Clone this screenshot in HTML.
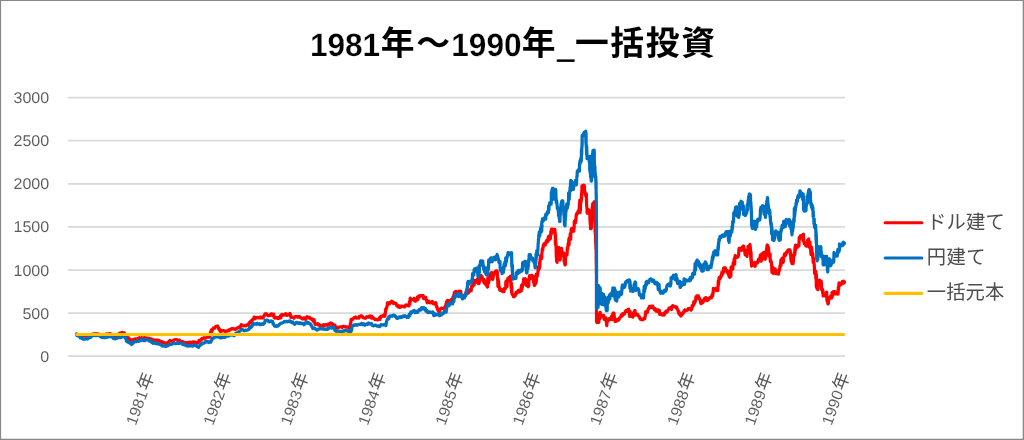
<!DOCTYPE html>
<html lang="ja"><head><meta charset="utf-8"><title>1981年～1990年_一括投資</title>
<style>
html,body{margin:0;padding:0;background:#fff;}
#chart{position:relative;width:1024px;height:440px;overflow:hidden;}
svg{position:absolute;left:0;top:0;display:block;will-change:transform;}
text{font-family:"Liberation Sans","Noto Sans CJK JP",sans-serif;}
.ax{text-rendering:geometricPrecision;font-size:15.5px;fill:#595959;stroke:#fff;stroke-width:0.05px;}
.ttl{font-size:32.3px;font-weight:bold;fill:#000;stroke:#fff;stroke-width:0.25px;text-rendering:geometricPrecision;}
</style></head><body>
<div id="chart">
<svg width="1024" height="440" viewBox="0 0 1024 440" role="img" aria-label="1981年～1990年_一括投資">
<g stroke="#888888" stroke-width="1.3" fill="none"><line x1="0" y1="0.45" x2="1024" y2="0.45"/><line x1="0.45" y1="0" x2="0.45" y2="440"/><line x1="1023.35" y1="0" x2="1023.35" y2="440"/><line x1="0" y1="439.3" x2="1024" y2="439.3"/></g>
<g stroke="#d9d9d9" stroke-width="1.75">
<line x1="68" y1="356.2" x2="845" y2="356.2"/>
<line x1="68" y1="313.1" x2="845" y2="313.1"/>
<line x1="68" y1="270" x2="845" y2="270"/>
<line x1="68" y1="226.9" x2="845" y2="226.9"/>
<line x1="68" y1="183.8" x2="845" y2="183.8"/>
<line x1="68" y1="140.7" x2="845" y2="140.7"/>
<line x1="68" y1="97.6" x2="845" y2="97.6"/>
</g>
<g class="ax" text-anchor="end">
<text x="49.2" y="361.75" textLength="8.93" lengthAdjust="spacingAndGlyphs">0</text>
<text x="49.2" y="318.65" textLength="26.79" lengthAdjust="spacingAndGlyphs">500</text>
<text x="49.2" y="275.55" textLength="35.72" lengthAdjust="spacingAndGlyphs">1000</text>
<text x="49.2" y="232.45" textLength="35.72" lengthAdjust="spacingAndGlyphs">1500</text>
<text x="49.2" y="189.35" textLength="35.72" lengthAdjust="spacingAndGlyphs">2000</text>
<text x="49.2" y="146.25" textLength="35.72" lengthAdjust="spacingAndGlyphs">2500</text>
<text x="49.2" y="103.15" textLength="35.72" lengthAdjust="spacingAndGlyphs">3000</text>
</g>
<g fill="none" stroke-width="3.2" stroke-linejoin="round" stroke-linecap="round">
<polyline stroke="#ff0000" points="76.5,334.62 76.97,334.79 77.44,334.63 77.91,335.44 78.38,334.68 78.84,335.42 79.31,336.06 79.78,335.74 80.25,335.75 80.76,335.56 81.27,335.59 81.79,335.52 82.3,335.9 82.81,336.15 83.32,335.84 83.83,335.61 84.34,335.56 84.86,335.71 85.37,336.05 85.88,335.75 86.39,335.64 86.91,335.63 87.42,335.18 87.93,334.93 88.45,335.08 88.96,335 89.47,334.85 89.99,334.89 90.5,334.88 90.96,334.57 91.43,334.65 91.89,334.58 92.36,334.51 92.82,334.28 93.29,333.86 93.75,333.75 94.28,334.08 94.81,334.23 95.35,334.23 95.88,333.57 96.38,334.25 96.88,334.36 97.38,334.36 97.88,334.24 98.38,333.88 98.8,335.03 99.23,334.82 99.65,335.01 100.08,335.41 100.5,335 101,335.48 101.5,335.48 102,334.77 102.5,335.23 103,335.08 103.5,335.1 104,335 104.5,335.12 105,334.65 105.5,334.28 106,334.66 106.5,333.88 107,334.36 107.5,334.36 108,334.36 108.5,334.36 109,333.7 109.45,333.66 109.9,333.8 110.35,334.02 110.8,333.94 111.25,334 111.68,334.31 112.1,334.99 112.53,335.5 112.95,334.82 113.38,335.21 113.87,335.45 114.35,334.64 114.84,334.9 115.32,334.64 115.81,335.69 116.29,335.69 116.78,335.07 117.26,334.79 117.75,335.12 118.12,334.37 118.5,334 118.88,333.72 119.25,333.54 119.62,333.17 120,333.5 120.44,333.28 120.88,333.45 121.31,332.66 121.75,332.9 122.29,332.42 122.84,333.37 123.38,333.25 123.75,333.66 124.13,333.34 124.5,333 124.88,334.62 125.15,335.06 125.42,335.94 125.69,336.06 125.96,335.99 126.23,337 126.5,336.88 126.86,337.22 127.21,337.35 127.57,337.17 127.93,338.52 128.29,338.19 128.64,337.87 129,339.38 129.45,339.17 129.89,339.77 130.34,339.4 130.78,340.34 131.23,340.62 131.67,340.56 132.12,340.51 132.5,339.86 132.87,340.24 133.25,340.15 133.62,339.65 134,339.23 134.5,339.34 135,338.93 135.5,338.75 136,338.75 136.5,339.52 136.97,338.81 137.44,338.85 137.91,338.35 138.38,338.68 138.84,338.02 139.31,337.64 139.78,338.02 140.25,338.12 140.75,338.14 141.25,338.57 141.75,337.64 142.25,338.3 142.75,338.62 143.22,338.41 143.69,337.99 144.16,337.57 144.62,337.57 145.09,338.19 145.56,338.47 146.03,337.85 146.5,338.05 146.97,338.22 147.44,338.62 147.91,338.04 148.38,338.29 148.84,338.36 149.31,338.35 149.78,338.76 150.25,338.75 150.72,338.91 151.19,338.94 151.66,339.2 152.12,339.35 152.59,340.08 153.06,340.58 153.53,340.17 154,340.36 154.52,340.37 155.04,339.92 155.56,340.67 156.08,340.51 156.6,340.03 157.12,340.01 157.57,340.04 158.01,340.38 158.46,340.58 158.91,340.45 159.36,340.7 159.8,340.83 160.25,341.25 160.72,341.57 161.19,342.13 161.66,341.56 162.12,341.56 162.59,342.57 163.06,342.58 163.53,342.59 164,342.75 164.5,342.68 165,343 165.5,343.49 166,343.49 166.5,343.01 166.92,342.92 167.33,342.88 167.75,342.5 168.17,342.99 168.58,341.78 169,341.27 169.42,340.9 169.83,340.32 170.25,340.62 170.72,340.54 171.19,341.1 171.66,341.1 172.12,341.1 172.59,341.1 173.06,340.6 173.53,340.17 174,340 174.47,340.21 174.94,339.52 175.41,339.65 175.88,339.52 176.34,339.52 176.81,339.91 177.28,340.03 177.75,340 178.22,340.04 178.69,340.58 179.16,340.07 179.62,340.28 180.09,341.53 180.56,341.26 181.03,341.79 181.5,341.88 181.97,342.07 182.44,341.56 182.91,342.35 183.38,342.04 183.84,342.6 184.31,342.73 184.78,342.85 185.25,343.12 185.72,342.64 186.19,342.64 186.66,342.64 187.12,343.44 187.59,342.65 188.06,342.64 188.53,342.78 189,343.12 189.5,342.02 190,342.02 190.5,342.17 191,342.52 191.5,342.5 191.97,342.74 192.44,342.42 192.91,341.9 193.38,341.84 193.84,342.36 194.31,341.84 194.78,342.05 195.25,342.32 195.75,342.22 196.25,342.57 196.75,342.68 197.25,343.34 197.75,342.86 198.06,342.86 198.38,342.75 198.69,341.92 199,340.44 199.31,341.58 199.62,341.4 199.94,341 200.25,340 200.67,339.93 201.08,339.32 201.5,339.34 201.92,338.51 202.33,339.13 202.75,338.86 203.17,338.58 203.58,338.56 204,337.75 204.52,338.02 205.04,338.23 205.56,338.23 206.08,337.81 206.6,337.48 207.12,336.99 207.62,336.71 208.12,337.07 208.62,336.75 209.12,336.62 209.62,337.14 209.73,336.29 209.85,335.72 209.96,335.45 210.08,334.34 210.19,333.24 210.31,334.46 210.42,332.61 210.54,334.32 210.65,332.32 210.77,332.2 210.88,331.88 211.16,330.65 211.44,329.96 211.71,331.53 211.99,330.84 212.27,330.13 212.55,330.1 212.82,329.11 213.1,328.54 213.38,328.12 213.83,327.79 214.27,327.79 214.72,328.07 215.16,326.77 215.61,326.83 216.05,326.31 216.5,326.37 216.88,326.25 217.25,326.31 217.63,325.89 218,327.03 218.38,328.12 218.65,327.64 218.91,329.36 219.18,329.79 219.45,329.26 219.72,329.5 219.98,330.33 220.25,331.32 220.75,331.53 221.25,330.64 221.75,330.79 222.25,330.9 222.75,330.56 223.25,330.57 223.75,330.76 224.25,330.77 224.75,330.84 225.25,331.5 225.75,331.26 226.25,331.28 226.75,331.18 227.25,331 227.75,330.62 228.22,330.52 228.69,330.03 229.16,330.54 229.62,329.99 230.09,329.95 230.56,329.14 231.03,329.19 231.5,328.94 232,328.5 232.5,328.84 233,328.46 233.5,329.01 234,329.19 234.47,329 234.94,329.46 235.41,328.8 235.88,328.9 236.34,328.97 236.81,328.38 237.28,327.94 237.75,328.12 238.25,327.47 238.75,327.02 239.25,327.02 239.75,327.02 240.25,327.5 240.56,326.01 240.87,325.57 241.19,324.71 241.5,324.7 241.81,325.23 242.12,325.19 242.62,325.8 243.12,325.93 243.62,325.79 244.12,325.86 244.62,325.43 245.07,325.26 245.51,325.39 245.96,325.88 246.41,325.16 246.86,325.27 247.3,325.27 247.75,324.38 248.11,324.47 248.46,324.9 248.82,324.52 249.18,322.52 249.54,322.46 249.89,322.96 250.25,321.88 250.61,321.21 250.96,322.44 251.32,321.5 251.68,321.48 252.04,320.97 252.39,319.68 252.75,319.38 253.2,319.44 253.64,319.04 254.09,317.08 254.54,317.95 254.99,318.87 255.43,318.51 255.88,317.69 256.4,317.8 256.92,317.5 257.44,317.35 257.96,317.81 258.48,317.67 259,317.93 259.52,317.46 260.04,317.11 260.56,316.88 261.08,318.04 261.6,317.91 262.12,317.5 262.47,317.3 262.82,317.52 263.16,318 263.51,316.68 263.86,315.86 264.21,315.8 264.55,314.58 264.9,313.99 265.25,314.12 265.75,314.12 266.25,313.68 266.75,314.37 267.25,315.06 267.75,315 268.25,315.7 268.75,315.33 269.25,315.5 269.75,315 270.25,315.43 270.75,315.1 271.25,313.81 271.75,314.65 272.25,314.12 272.75,314.31 272.93,314.95 273.11,315.34 273.29,315.81 273.46,314.8 273.64,314.12 273.82,316.08 274,317.5 274.5,317.52 275,318.11 275.5,317.14 276,317.76 276.5,317.93 277.02,318.32 277.54,317.74 278.06,317.41 278.58,318.31 279.1,317.76 279.62,317.5 279.93,318.1 280.25,318.02 280.56,315.55 280.87,317.63 281.18,315.98 281.5,315.94 281.81,314.44 282.12,314.38 282.64,314.89 283.16,315.05 283.69,315.05 284.21,315.05 284.73,314.41 285.25,313.94 285.75,313.67 286.25,314.76 286.75,315.3 287.25,315.29 287.75,314.62 288.22,314.86 288.69,315 289.15,315.01 289.62,314.12 289.89,313.46 290.16,314.13 290.43,314.79 290.69,316.55 290.96,317.42 291.23,316.74 291.5,316.88 291.92,316.88 292.33,317.05 292.75,317.03 293.17,317.64 293.58,317.7 294,318.19 294.47,317.34 294.94,316.64 295.41,316.64 295.88,316.73 296.34,316.63 296.81,316.63 297.28,316.97 297.75,317.25 298.22,316.74 298.69,316.63 299.16,316.63 299.62,316.63 300.09,317.54 300.56,317.47 301.03,318.19 301.5,318.12 302,318.53 302.5,318.96 303,318.89 303.5,317.94 304,319 304.39,319.03 304.78,317.86 305.17,318.98 305.56,319.18 305.95,318.29 306.34,318.08 306.73,317.4 307.12,316.62 307.62,316.93 308.12,317 308.62,318 309.12,317.91 309.62,317.5 309.94,317.87 310.25,318.12 310.67,318.97 311.08,318.96 311.5,319.02 311.92,318.84 312.33,319.81 312.75,320 313,321.2 313.25,321.02 313.5,321.16 313.75,320.76 314,319.46 314.25,320.56 314.5,322.58 314.75,322.81 315,323.99 315.25,324.44 315.75,324.06 316.25,323.87 316.75,324.11 317.25,323.88 317.75,323.68 318.17,325.03 318.58,325.02 319,325.06 319.42,324.8 319.83,325.61 320.25,325.25 320.77,325.37 321.29,325.7 321.81,325.75 322.34,325.75 322.86,325.16 323.38,324.75 323.85,325.15 324.31,324.95 324.78,325.41 325.25,325.06 325.72,324.69 326.19,324.62 326.65,325.02 327.12,325.25 327.56,324.72 328,324.46 328.43,323.86 328.87,324.35 329.31,324.82 329.75,324.36 330.19,323.43 330.62,322.92 331.06,323.36 331.5,323.25 331.95,323.5 332.39,324.53 332.84,325.52 333.28,324.67 333.73,324.57 334.17,325.04 334.62,325 334.98,325.17 335.33,326.19 335.69,327.49 336.05,327.71 336.41,327.97 336.76,327.44 337.12,327.49 337.64,327.62 338.16,327.58 338.69,327.09 339.21,327.25 339.73,326.97 340.25,326.88 340.72,326.91 341.19,326.88 341.66,326.86 342.12,327.36 342.59,326.49 343.06,326.66 343.53,326.41 344,326.44 344.52,326.62 345.04,326.99 345.56,327.18 346.08,326.83 346.6,327.05 347.12,326.88 347.62,327 348.12,327.24 348.62,327.75 349.12,328.15 349.62,327.75 349.72,328.12 349.81,328.23 349.91,328.21 350,328.08 350.1,326.61 350.2,325.76 350.29,323.94 350.39,323.83 350.48,324.35 350.58,324.04 350.67,322.7 350.77,322.48 350.87,321.95 350.96,319.92 351.06,319.77 351.15,319.83 351.25,319.38 351.71,319.85 352.17,319.55 352.62,319.28 353.08,319.06 353.54,318.24 354,317.69 354.52,317.93 355.04,317.66 355.56,317.07 356.08,317.68 356.6,318.22 357.12,317.93 357.57,317.9 358.01,318.03 358.46,317.93 358.91,318.05 359.36,316.5 359.8,316.64 360.25,316.37 360.7,316.59 361.14,315.74 361.59,315.86 362.04,316.08 362.49,316.71 362.93,317.58 363.38,317.75 363.9,317.95 364.42,317.94 364.94,318.37 365.46,318.24 365.98,317.73 366.5,316.88 366.97,316.96 367.44,316.79 367.91,316.79 368.38,317.2 368.84,317.25 369.31,316.18 369.78,316.27 370.25,316 370.64,316.37 371.03,317.21 371.42,318.11 371.81,316.35 372.21,317.42 372.6,317.9 372.99,317.44 373.38,318.12 373.83,318.73 374.27,318.87 374.72,318.9 375.16,319.64 375.61,319.73 376.05,319.61 376.5,319.38 377,319.48 377.5,319.81 378,319.63 378.5,319.3 379,319.38 379.27,317.95 379.54,318.06 379.81,318.66 380.07,319.42 380.34,317.03 380.61,317.03 380.88,316.25 381.4,316.24 381.92,316.41 382.44,315.66 382.96,316.06 383.48,315.98 384,315.62 384.17,315.48 384.33,316.24 384.5,316.29 384.67,314.16 384.83,316.31 385,314.73 385.17,315.38 385.33,312.86 385.5,310.8 385.67,309.24 385.83,310.77 386,309.35 386.17,308.28 386.33,308 386.5,308.75 386.73,307.62 386.95,306.12 387.18,306.06 387.41,302.96 387.64,304.21 387.86,302.95 388.09,302.94 388.32,303.22 388.55,304.2 388.77,303.86 389,303.75 389.38,303.97 389.75,303.66 390.13,302.33 390.5,302.54 390.88,302 391.3,302.26 391.71,301.18 392.13,302.3 392.55,301.56 392.96,302.39 393.38,303.56 393.88,303.23 394.38,302.9 394.88,303.15 395.38,303.01 395.88,303.31 396.15,304.08 396.41,304.87 396.68,305.7 396.95,305.49 397.22,306.15 397.48,305.09 397.75,306.25 398.27,306.83 398.79,306.63 399.31,307.34 399.84,306 400.36,307.26 400.88,306.69 401.4,306.3 401.92,306 402.44,306.37 402.96,306.51 403.48,306.65 404,306.25 404.52,306.86 405.04,306.7 405.56,305.51 406.08,304.88 406.6,305.27 407.12,305.38 407.59,305.09 408.06,305.29 408.53,304.96 409,305.88 409.13,304.53 409.25,304.28 409.38,301.6 409.5,302.83 409.63,303.7 409.75,303.31 409.88,304.16 410,301.54 410.13,298.82 410.25,298.04 410.38,299.62 410.5,300.13 410.63,300.51 410.75,299.51 410.88,298.75 411.4,299.57 411.92,299.67 412.44,299.67 412.96,299.67 413.48,299.68 414,298.31 414.42,300.38 414.83,300.99 415.25,301.22 415.67,301.22 416.08,300.07 416.5,300.31 416.85,298.65 417.19,297.91 417.54,296.88 417.89,299.51 418.23,297.24 418.58,296.07 418.93,296.78 419.27,296.23 419.62,296.88 420.14,295.88 420.66,295.49 421.19,295.52 421.71,295.48 422.23,295.71 422.75,296.44 423.17,295.49 423.58,298.58 424,297.84 424.42,297.29 424.83,297.71 425.25,298.12 425.53,297.78 425.81,297.38 426.08,299.84 426.36,299.72 426.64,300.16 426.92,302.07 427.19,302.76 427.47,301.61 427.75,301.88 428.25,302.31 428.75,301.03 429.25,301.52 429.75,302.25 430.25,302.75 430.75,302.28 431.25,302.4 431.75,302.54 432.25,301.42 432.75,302.25 433.25,303.62 433.75,303.25 434.25,303.98 434.75,303.57 435.25,303.12 435.44,303.72 435.62,302.49 435.81,304.48 436,302.87 436.19,304.92 436.37,305.65 436.56,306.09 436.75,307.44 436.93,306.45 437.12,307.5 437.36,309.01 437.59,309.33 437.82,310.16 438.06,308.96 438.3,311.14 438.53,311.49 438.76,311.49 439,310.75 439.36,311.44 439.71,311.33 440.07,309.37 440.43,308.99 440.79,308.79 441.14,308.41 441.5,308.12 442.02,308.38 442.54,308.51 443.06,308.42 443.58,308.27 444.1,307.74 444.62,308.12 444.83,308.17 445.04,308.32 445.25,308.11 445.45,306.2 445.66,305.26 445.87,305.74 446.08,303.94 446.29,303.56 446.5,301.66 446.7,303.31 446.91,302.82 447.12,302.5 447.57,300.39 448.01,300.49 448.46,300.6 448.91,303.37 449.36,303.28 449.8,302.67 450.25,301.25 450.56,302.14 450.88,300.43 451.19,302.15 451.5,299.32 451.81,300.48 452.12,300.59 452.44,299.17 452.75,298.12 452.89,297.12 453.04,298.97 453.18,299.07 453.33,299.08 453.47,299.09 453.61,297.28 453.76,295.22 453.9,294.72 454.04,296.49 454.19,293.5 454.33,293.03 454.48,292.3 454.62,292.07 455.12,292.08 455.62,291.41 456.12,291.39 456.62,293.01 457.12,292.31 457.62,292.49 458.12,292.41 458.62,293.35 459.12,291.21 459.62,291.18 459.81,292.8 460,296.56 460.18,296.64 460.37,291.81 460.56,293.59 460.75,291.23 460.94,293.78 461.12,293.7 461.31,295.16 461.5,295.62 462,295.86 462.5,297.47 463,297.46 463.5,296.51 464,296.5 464.35,296.65 464.69,296.22 465.04,294.78 465.39,295.27 465.73,294.59 466.08,292.13 466.43,293.13 466.77,293.53 467.12,293.12 467.43,292.97 467.75,291.72 468.06,292.44 468.37,293.03 468.68,291.07 469,290.16 469.31,290.89 469.62,290 469.93,290.37 470.25,291.07 470.56,289.22 470.87,290.61 471.19,290.7 471.5,286.45 471.81,286.76 472.12,286.9 472.44,286.3 472.75,286.25 472.92,281.54 473.09,280.93 473.26,280.13 473.43,280.13 473.6,280.13 473.77,282.05 473.94,280.95 474.11,285.17 474.28,280.87 474.45,281.7 474.62,281.25 475.09,280.67 475.56,282.21 476.03,280.33 476.5,280.38 476.81,282 477.13,282.39 477.44,279.25 477.75,279.77 478.07,282.01 478.38,282.62 478.56,283.75 478.74,283.75 478.92,283.75 479.09,282.28 479.27,282.71 479.45,281.13 479.63,277.6 479.81,279 479.99,276.35 480.17,279.79 480.34,277.47 480.52,279.42 480.7,277.78 480.88,276.12 481.19,275.45 481.5,276.66 481.81,276.59 482.13,276.9 482.44,279.31 482.75,278.75 482.98,279.22 483.2,280.41 483.43,281.53 483.66,280.37 483.89,279.36 484.11,282.95 484.34,281.71 484.57,280.23 484.8,281.06 485.02,281.2 485.25,283.75 485.56,284.29 485.87,283.63 486.19,284.5 486.5,284.28 486.81,285.83 487.12,285.94 487.25,286.82 487.37,287.06 487.5,286.96 487.62,284.23 487.75,280.2 487.87,277.85 488,277.63 488.12,277.63 488.25,280.65 488.37,280.98 488.5,283.09 488.62,282.68 488.75,281.65 488.87,279.29 489,278.75 489.17,279.87 489.34,279.87 489.51,279.87 489.68,278.2 489.85,278.56 490.03,276.78 490.2,274.91 490.37,276.53 490.54,275.97 490.71,273.57 490.88,273.8 491.07,272.99 491.25,272.68 491.44,273.08 491.63,272.68 491.81,273.23 492,273.67 492.19,276.85 492.38,278.66 492.56,279.42 492.75,278.7 492.98,278.87 493.2,276.21 493.43,276.26 493.66,272.63 493.89,272.63 494.11,272.63 494.34,272.63 494.57,273.19 494.8,272.63 495.02,272.94 495.25,273.75 495.62,271.1 496,270.88 496.37,270.88 496.75,270.88 497.12,272 497.18,271.36 497.25,272.57 497.31,274.03 497.38,273.56 497.44,272.55 497.51,277.35 497.57,278.5 497.64,280.41 497.7,278.17 497.77,281.45 497.83,283.38 497.9,285.9 497.96,286.4 498.03,286.7 498.09,281.3 498.16,278.91 498.22,283.22 498.29,283.63 498.35,283.52 498.42,285.34 498.48,284.74 498.55,283.68 498.61,281.33 498.68,283.9 498.74,284.94 498.81,283.63 498.87,284.42 498.94,286.01 499,286.25 499.31,286.8 499.62,289.68 499.94,290.29 500.25,290.47 500.56,290.47 500.88,290.46 501.19,290.46 501.5,289.38 501.88,290.33 502.25,290.43 502.63,291.75 503,291.74 503.38,290.69 503.65,291.75 503.91,291.75 504.18,290.62 504.45,288.22 504.72,288.17 504.98,288.18 505.25,287.5 505.39,287.8 505.53,288.33 505.67,286.4 505.81,282.2 505.94,281.4 506.08,281.03 506.22,287.37 506.36,285.69 506.5,282.05 506.64,282.9 506.78,286.22 506.92,284.42 507.06,286.72 507.19,282.74 507.33,281.66 507.47,281.37 507.61,280.29 507.75,278.75 508.11,278.11 508.46,278.83 508.82,278.17 509.18,277.61 509.54,277.24 509.89,277.04 510.25,276.56 510.3,276.86 510.35,276.01 510.41,277.66 510.46,277.53 510.51,277.57 510.56,278.75 510.61,281.62 510.67,282.35 510.72,280.48 510.77,281.07 510.82,283.74 510.87,286.03 510.93,282.89 510.98,286.44 511.03,284.37 511.08,286.07 511.13,285.72 511.19,284.77 511.24,282.66 511.29,288.63 511.34,287.08 511.39,283.6 511.44,285.47 511.5,291 511.55,290.17 511.6,292.27 511.65,289.93 511.7,291.45 511.76,287.66 511.81,286.6 511.86,288.4 511.91,289.59 511.96,293.1 512.02,293.97 512.07,294.4 512.12,294.38 512.57,294.42 513.01,295.39 513.46,296.67 513.91,296.28 514.36,296.66 514.8,294.86 515.25,295.69 515.56,294.04 515.87,292.74 516.18,292.13 516.5,292.12 516.81,292.12 517.12,293.12 517.57,292.25 518.01,291.38 518.46,290.23 518.91,290.22 519.36,290.39 519.8,291.81 520.25,291.25 520.41,290.71 520.56,290.51 520.72,290.3 520.88,289.98 521.03,289.4 521.19,287.11 521.34,290.91 521.5,286.79 521.66,285.11 521.81,288.64 521.97,289.24 522.12,288.13 522.28,287.47 522.44,286.47 522.59,284.86 522.75,283.75 522.98,284.87 523.22,284.25 523.45,281.83 523.68,278.93 523.92,278.93 524.15,278.93 524.39,278.93 524.62,280.05 524.78,280.73 524.93,283.15 525.09,281.7 525.25,279.25 525.4,278.93 525.56,279.24 525.72,279 525.87,282.06 526.03,284.66 526.19,282.93 526.34,285.44 526.5,285.58 526.65,284.8 526.8,283.06 526.95,284.62 527.09,284.16 527.24,283.23 527.39,284.58 527.54,282.9 527.69,283.3 527.84,280.05 527.99,285.28 528.13,286.49 528.28,286.7 528.43,284.26 528.58,283.53 528.73,285.93 528.88,280.88 529.03,280.16 529.17,278.62 529.32,276.52 529.47,277 529.62,275.5 530.01,276.3 530.4,277.25 530.79,278.54 531.18,278.26 531.58,277.38 531.97,275.2 532.36,275.78 532.75,278.12 532.94,279.12 533.13,277 533.33,280.24 533.52,282.73 533.71,280.6 533.9,279.15 534.1,281.81 534.29,285.44 534.48,285.44 534.67,284.45 534.87,284.29 535.06,282.79 535.25,284.32 535.35,283.91 535.45,282.28 535.55,282.6 535.64,280.7 535.74,275.36 535.84,278.89 535.94,277.33 536.04,282.12 536.14,280.18 536.23,282.55 536.33,281.25 536.43,277.77 536.53,273.88 536.63,273.88 536.73,276.05 536.82,277.64 536.92,274.67 537.02,274.56 537.12,275 537.25,274.26 537.37,274.44 537.5,275.93 537.62,273.32 537.75,273.23 537.87,273.36 538,269.05 538.12,271.55 538.25,270.25 538.37,266.89 538.5,270.43 538.62,267.67 538.75,267.52 538.87,267.23 539,267.5 539.06,266.15 539.12,266.27 539.19,267.75 539.25,268.62 539.31,268.62 539.38,268.62 539.44,267.97 539.5,268.45 539.56,264.45 539.62,262.15 539.69,263.3 539.75,266.03 539.81,266.61 539.88,266.9 539.94,261.31 540,261.11 540.06,261.89 540.12,258.42 540.19,258.55 540.25,257.5 540.41,258.33 540.56,255.72 540.72,256.73 540.88,258.5 541.03,258.62 541.19,258.62 541.34,258.47 541.5,258.62 541.66,258.57 541.81,255.21 541.97,252.57 542.12,251.52 542.28,248.88 542.44,248.88 542.59,249.24 542.75,250 542.98,248.18 543.2,245.64 543.43,245.83 543.66,246.24 543.89,243.97 544.11,245.52 544.34,244.24 544.57,243.88 544.8,243.88 545.02,243.88 545.25,245 545.53,242.91 545.81,242.49 546.08,242.44 546.36,240.83 546.64,240.45 546.92,240.91 547.19,241.08 547.47,242.01 547.75,241.25 547.98,238.39 548.22,238.32 548.45,236.59 548.68,240.31 548.92,239 549.15,239.92 549.39,237.79 549.62,237.5 549.79,236.92 549.96,235.28 550.13,237.65 550.3,238.62 550.47,237.67 550.64,234.93 550.81,231.99 550.98,231.09 551.15,234.2 551.32,233.98 551.49,233.34 551.66,230.94 551.83,231.79 552,230.75 551.62,229.63 551.25,231.75 551.5,229.12 551.75,229.12 552,230.24 552.33,229.12 552.67,230.71 553,231.5 553.33,231.4 553.67,231.76 554,230.5 554.25,231.16 554.5,229.38 554.75,229.38 555,232.5 555.04,232.84 555.08,233.63 555.12,234.57 555.16,235.17 555.2,231.97 555.24,236.34 555.28,234.9 555.32,235.16 555.36,240.6 555.4,244.29 555.44,243.04 555.48,240.14 555.52,236.92 555.56,235.29 555.6,240.69 555.64,241.54 555.68,241.68 555.72,241.11 555.76,241.93 555.8,241.08 555.84,241.78 555.88,243.66 555.92,244.42 555.96,245.53 556,245 556.02,245.76 556.04,247.57 556.06,247.3 556.08,247.84 556.1,247.4 556.12,248.3 556.14,248.25 556.15,248.92 556.17,249.93 556.19,251.13 556.21,253.2 556.23,253.7 556.25,255.25 556.27,250.75 556.29,245.61 556.31,251.16 556.33,250.1 556.35,257.88 556.37,251.14 556.39,253.75 556.41,256.21 556.43,251.5 556.45,256.09 556.47,250.72 556.48,255.76 556.5,256.04 556.52,257 556.54,257.07 556.56,259.5 556.58,261.16 556.6,260.46 556.62,261.2 556.7,260.28 556.77,259.44 556.85,257.98 556.92,258.01 557,258.56 557.07,262.32 557.15,260.68 557.22,257.97 557.3,256 557.37,254.1 557.45,253.62 557.52,254.39 557.6,251.87 557.67,250.83 557.75,247.68 557.82,251.21 557.9,251.73 557.97,251.53 558.05,248.97 558.12,247.68 558.2,247.68 558.27,249.34 558.35,248.12 558.42,247.68 558.5,248.8 558.56,248.53 558.61,249.25 558.67,250.33 558.73,250.2 558.78,247.68 558.84,250.21 558.9,247.68 558.95,248.92 559.01,247.68 559.07,247.68 559.12,250.1 559.18,249.37 559.24,253.58 559.3,257.06 559.35,255.69 559.41,257.87 559.47,255.18 559.52,258.2 559.58,259.33 559.64,258.43 559.69,259.77 559.75,259.95 559.83,259.69 559.91,259.7 559.99,259.27 560.08,257.83 560.16,259.54 560.24,255.1 560.32,255.41 560.4,257.59 560.48,258.04 560.56,256.41 560.64,256.53 560.73,254.24 560.81,255.98 560.89,256.56 560.97,253.94 561.05,253.24 561.13,255.73 561.21,253.79 561.29,250.25 561.38,249.75 561.46,249.51 561.54,248.43 561.62,248.8 561.79,251.67 561.96,254.87 562.13,254.87 562.3,254.87 562.47,254.72 562.65,254.87 562.82,254.87 562.99,254.87 563.16,254.87 563.33,254.87 563.5,253.75 563.56,254.44 563.62,253.22 563.69,253.84 563.75,255.79 563.81,254.69 563.88,253.02 563.94,255.13 564,257.55 564.06,261.39 564.12,256.92 564.19,255.36 564.25,254.98 564.31,256.35 564.38,259.22 564.44,261.74 564.5,263.28 564.56,262.13 564.62,260.17 564.69,262.43 564.75,263.7 564.81,264.58 564.88,263.94 564.94,263.23 565,264.82 565.06,263.51 565.12,264.82 565.19,264.82 565.25,264.82 565.31,264.82 565.38,264.59 565.44,262.19 565.5,256.05 565.56,257.66 565.62,258.2 565.69,255.01 565.75,255.91 565.81,253.74 565.88,254.82 565.94,254.98 566,253.75 566.17,254.75 566.34,254.87 566.51,254.87 566.68,254.87 566.85,254.87 567.03,254.87 567.2,251.68 567.37,247.63 567.54,247.63 567.71,247.63 567.88,248.75 567.97,246.99 568.07,245.23 568.16,243.01 568.25,243.91 568.35,244.56 568.44,244.5 568.53,243.49 568.63,242.24 568.72,241.03 568.82,239.14 568.91,240.95 569,245.01 569.1,244.22 569.19,239.88 569.28,237.63 569.38,237.91 569.47,238.51 569.56,238.47 569.66,239.23 569.75,238.75 569.84,238.97 569.93,237.36 570.02,239.32 570.11,238.43 570.2,233.93 570.28,233.92 570.37,234.88 570.46,239.34 570.55,237.22 570.64,237.77 570.73,239.24 570.82,232.5 570.91,232.07 571,231.65 571.09,231.21 571.17,229.84 571.26,229.26 571.35,230.54 571.44,229.77 571.53,229.8 571.62,228.62 572,229.49 572.37,229.8 572.75,231.25 573.12,230.31 573.5,230.12 573.58,230.82 573.67,231.25 573.75,230.56 573.83,231.25 573.92,226.83 574,228.31 574.08,228.93 574.17,226.66 574.25,222.12 574.33,221.38 574.42,221.38 574.5,221.81 574.58,221.57 574.67,222.74 574.75,222.5 574.85,223.02 574.96,221.92 575.06,222.03 575.17,222.49 575.27,222 575.37,219.86 575.48,222.82 575.58,222.25 575.68,221.64 575.79,220.28 575.89,220.07 576,219.66 576.1,216.31 576.2,215.21 576.31,215.75 576.41,215.88 576.52,214.99 576.62,213.75 576.98,213.56 577.33,212.86 577.69,213.23 578.05,211.24 578.41,210.73 578.76,210.31 579.12,211.25 579.21,209.13 579.31,206.7 579.4,205.17 579.5,203.79 579.59,204.98 579.68,202.59 579.78,200.13 579.87,203.45 579.97,205.55 580.06,209.76 580.15,212.37 580.25,207.69 580.34,210.62 580.44,209.56 580.53,202.97 580.62,201.61 580.72,203.76 580.81,202.05 580.91,201.67 581,201.25 581.04,200.88 581.09,199.86 581.13,200.17 581.17,201.02 581.22,201.61 581.26,200.46 581.3,199.66 581.34,199.93 581.39,197.42 581.43,197.45 581.47,195.51 581.52,193.57 581.56,195.09 581.6,194.83 581.65,198.11 581.69,195.68 581.73,196.14 581.78,190.41 581.82,191.2 581.86,192.52 581.91,187.95 581.95,185.76 581.99,185.76 582.03,185.76 582.08,188.15 582.12,191.39 582.16,189.9 582.21,188.53 582.25,186.88 582.67,186.05 583.08,185.44 583.5,186.44 583.6,185.32 583.71,187.06 583.81,185.32 583.92,188.12 584.02,185.32 584.12,185.32 584.23,185.33 584.33,186.97 584.44,186.61 584.54,190.57 584.65,190.15 584.75,192.5 584.96,191.98 585.17,194.02 585.38,194.52 585.58,195.04 585.79,196.12 586,195 586.03,194.4 586.06,195.19 586.09,195.36 586.12,193.88 586.15,193.88 586.19,193.88 586.22,193.88 586.25,193.88 586.28,193.88 586.31,193.88 586.34,194.02 586.37,194.37 586.4,197.81 586.43,197.02 586.47,199.55 586.5,200.23 586.53,202.16 586.56,204.6 586.59,205.13 586.62,205 586.75,206.42 586.87,209.02 587,208.97 587.12,212.78 587.25,213.25 587.37,213.25 587.5,213.25 587.62,213.25 587.75,213.25 587.87,213.25 588,213.25 588.12,211.04 588.25,209.3 588.37,210.33 588.5,212.12 588.92,210.5 589.33,210.62 589.75,211.62 589.78,211.33 589.8,214.01 589.83,213.59 589.86,214.61 589.89,216.51 589.91,217.02 589.94,218.72 589.97,220.48 589.99,219.35 590.02,216.66 590.05,219.96 590.08,222.32 590.1,221.84 590.13,221.12 590.16,217.35 590.18,220.58 590.21,224.01 590.24,220.08 590.27,220.01 590.29,220.07 590.32,217.69 590.35,219.49 590.38,217.96 590.4,222.35 590.43,221.95 590.46,222.73 590.48,226.76 590.51,227.88 590.54,227.95 590.57,228.57 590.59,226.35 590.62,227.45 590.69,226.52 590.76,224.29 590.83,224.58 590.9,225.37 590.97,225.34 591.04,223.62 591.11,226.11 591.18,228.57 591.25,227.25 591.32,228.25 591.39,225.16 591.46,221.69 591.53,217.63 591.6,217.63 591.67,222.37 591.74,220.38 591.81,218.96 591.88,218.75 591.9,218.96 591.93,219.75 591.95,218.83 591.98,218.45 592,217.66 592.03,216.59 592.05,215.73 592.08,214.92 592.1,218.97 592.13,219.84 592.15,217.7 592.18,213.7 592.2,207.36 592.23,206.77 592.25,210.97 592.27,213.08 592.3,215.53 592.32,212.82 592.35,216.97 592.37,210.91 592.4,210.37 592.42,213.57 592.45,211.15 592.47,209.49 592.5,210.29 592.52,206.24 592.55,207.24 592.57,206.12 592.6,204.09 592.62,203.75 593,203.32 593.37,204.34 593.75,204.62 594.12,202.7 594.15,202.18 594.17,201.98 594.2,201.82 594.22,202.76 594.25,201.85 594.27,203.61 594.3,203.95 594.32,206.89 594.35,205.16 594.37,208 594.4,211.28 594.42,210.63 594.45,213.13 594.47,214.09 594.5,214.76 594.52,210.6 594.55,209.43 594.57,209.93 594.6,208.99 594.62,210.55 594.65,211.8 594.67,213.43 594.7,213.92 594.72,214.03 594.75,215 594.77,215.4 594.79,215.29 594.81,214.28 594.83,215.77 594.84,216.21 594.86,217.75 594.88,218.44 594.9,217.45 594.92,218.75 594.94,219.62 594.96,222.6 594.98,221.23 594.99,222.94 595.01,225.35 595.03,224.41 595.05,226.36 595.07,229.24 595.09,232.01 595.11,225.51 595.12,229.47 595.14,227.93 595.16,226.09 595.18,227.71 595.2,226.06 595.22,231.1 595.24,233.94 595.26,233.8 595.27,232.8 595.29,227.94 595.31,223.61 595.33,224.27 595.35,228.41 595.37,229.04 595.39,227.65 595.41,229.21 595.42,231.78 595.44,232.49 595.46,233.08 595.48,233.72 595.5,235 595.52,234.43 595.54,235.85 595.56,235.54 595.58,236.93 595.6,236.38 595.62,240.8 595.64,241.73 595.67,242.32 595.69,242.95 595.71,241.65 595.73,238.68 595.75,237.37 595.77,237.38 595.79,238.51 595.81,245.21 595.83,238.81 595.85,238.73 595.87,239.7 595.89,242.51 595.91,240.43 595.93,248.3 595.95,248.39 595.98,248.72 596,247.96 596.02,249.3 596.04,246.79 596.06,246.78 596.08,246.9 596.1,247.89 596.12,250 596.13,250.13 596.14,249.64 596.15,250.52 596.16,252.28 596.17,252.81 596.18,253.08 596.19,252.39 596.2,249.68 596.21,256 596.22,258.63 596.22,256.59 596.23,253.48 596.24,257.03 596.25,256.65 596.26,261.17 596.27,259.46 596.28,257.57 596.29,262.22 596.3,260.56 596.31,257.51 596.32,262.65 596.33,261.2 596.34,263.9 596.35,263.35 596.36,262.13 596.37,260.55 596.38,259.17 596.39,266.77 596.4,264.88 596.4,272.91 596.41,271.42 596.42,272.91 596.43,272.91 596.44,272.9 596.45,271.79 596.46,268.78 596.47,270.47 596.48,272.9 596.49,271.45 596.5,270 596.5,270.5 596.5,271 596.5,271.5 596.5,272 596.5,272.5 596.5,273 596.5,273.5 596.5,274 596.5,274.5 596.5,275 596.5,275.5 596.5,276 596.5,276.5 596.5,277 596.5,277.5 596.5,278 596.5,278.5 596.5,279 596.5,279.5 596.5,280 596.5,280.5 596.5,281 596.5,281.5 596.5,282 596.5,282.5 596.5,283 596.5,283.5 596.5,284 596.5,284.5 596.5,285 596.5,285.5 596.5,286 596.5,286.5 596.5,287 596.5,287.5 596.5,288 596.5,288.5 596.5,289 596.5,289.5 596.5,290 596.5,290.5 596.5,291 596.5,291.5 596.5,292 596.5,292.5 596.5,293 596.5,293.5 596.5,294 596.5,294.5 596.5,295 596.5,295.5 596.5,296 596.5,296.5 596.5,297 596.5,297.5 596.5,298 596.5,298.5 596.5,299 596.5,299.5 596.5,300 596.5,300.5 596.5,301 596.5,301.5 596.5,302 596.5,302.5 596.5,303 596.5,303.5 596.5,304 596.5,304.5 596.5,305 596.5,305.5 596.5,306 596.5,306.5 596.5,307 596.5,307.5 596.5,308 596.5,308.5 596.5,309 596.5,309.5 596.5,310 596.5,310.5 596.5,311 596.5,311.5 596.5,312 596.5,312.5 596.5,313 596.5,313.5 596.5,314 596.5,314.5 596.5,315 596.5,315.5 596.5,316 596.5,316.5 596.5,317 596.5,317.5 596.5,318 596.5,318.5 596.5,319 596.5,319.5 596.5,320 596.5,320.5 596.5,321 596.5,321.18 596.56,320 596.63,320.82 596.69,320.66 596.75,322.05 596.81,322.63 596.88,318.16 596.94,316.3 597,318.28 597.07,316.58 597.13,316.43 597.19,318.54 597.25,315.44 597.32,314.29 597.38,314.42 597.44,314.2 597.49,318.59 597.55,314.9 597.61,317.86 597.66,319.32 597.72,317.11 597.78,322.23 597.84,321.32 597.89,322.37 597.95,322.35 598.01,320.25 598.06,322.29 598.12,320.95 598.21,321.22 598.3,317.23 598.39,315.86 598.48,314.89 598.57,319.07 598.67,322.11 598.76,322.35 598.85,322.19 598.94,320.7 599.03,316.47 599.12,315.68 599.23,314.27 599.33,314.29 599.43,314.32 599.54,315.44 599.64,318.89 599.75,318.7 599.81,317.12 599.88,316.76 599.94,314.14 600,312.28 600.07,312.27 600.13,314.37 600.19,315.85 600.25,315.33 600.32,313.29 600.38,313.62 600.72,313.88 601.06,316.25 601.4,315.88 601.73,316.85 602.07,315.48 602.41,315.51 602.75,316.25 603.06,316.98 603.37,315.94 603.68,315.38 604,317.59 604.31,319.43 604.62,318.75 604.77,318.16 604.92,317.77 605.08,317.79 605.23,317.8 605.38,317.82 605.53,317.84 605.68,317.86 605.84,317.88 605.99,317.9 606.14,319 606.29,322.77 606.45,321.69 606.6,324.27 606.75,325.58 606.91,323.4 607.08,321.08 607.24,319.83 607.4,319.82 607.57,319.81 607.73,319.8 607.89,319.8 608.05,319.79 608.22,320.88 608.38,320.62 608.8,320.02 609.21,318.73 609.63,319.63 610.05,319.5 610.46,319.03 610.88,318.75 611.09,318.15 611.3,318.45 611.5,316.42 611.71,318.63 611.92,319.51 612.13,319.61 612.34,315.29 612.55,315.41 612.75,313.66 612.96,313.56 613.17,314.08 613.38,313.18 613.5,312.89 613.63,313.59 613.75,316.22 613.88,313.13 614,313.54 614.13,314.37 614.25,317.04 614.38,319.33 614.5,319.49 614.63,317.69 614.75,319.3 614.88,318.47 615,321.17 615.13,321.41 615.25,320.69 615.67,321.39 616.08,321.08 616.5,320.89 616.92,320.82 617.33,320.61 617.75,319.38 618.17,320.08 618.58,320.08 619,319.66 619.42,318.02 619.83,317.64 620.25,317.5 620.53,316.92 620.81,316.49 621.08,315.77 621.36,315.48 621.64,314.58 621.92,315.96 622.19,316.13 622.47,314.94 622.75,313.75 623.1,314.51 623.45,314.52 623.79,313.72 624.14,313.55 624.49,313.79 624.84,312.38 625.18,311.69 625.53,311.42 625.88,310.62 626.3,310.98 626.71,311.36 627.13,310.27 627.55,310.96 627.96,310.2 628.38,309.31 628.56,309.45 628.74,309.24 628.92,311.54 629.09,311.95 629.27,314.24 629.45,313.13 629.63,316.36 629.81,315.94 629.99,311.89 630.17,311.49 630.34,314.87 630.52,314.8 630.7,315.7 630.88,315.62 631.35,316.36 631.82,315.95 632.28,316.6 632.75,316.5 632.89,317.17 633.02,316.16 633.16,315.37 633.3,313.59 633.43,313.11 633.57,313.6 633.7,314.82 633.84,315.75 633.98,313.96 634.11,313.13 634.25,311.3 634.45,311.28 634.66,310.64 634.86,310.58 635.07,310.59 635.27,311.81 635.47,312.79 635.68,313.12 635.88,315 636.33,314.68 636.77,314.33 637.22,314.34 637.66,314.34 638.11,315.8 638.55,316.01 639,316.88 639.39,316.69 639.78,318.29 640.17,319.15 640.56,318.91 640.95,319.42 641.34,319.54 641.73,318.91 642.12,319.44 642.54,319.79 642.95,319.75 643.37,318.97 643.79,318.4 644.2,318.8 644.62,318.12 644.73,318.23 644.83,318.75 644.93,316.73 645.04,317.57 645.14,315.9 645.25,316.45 645.36,314.33 645.46,314.25 645.57,312.44 645.67,311.81 645.77,312.07 645.88,312.5 646.19,312.05 646.5,312.94 646.82,311.5 647.13,312.74 647.44,312.03 647.75,310.28 648.07,309.04 648.38,309.38 648.77,307.81 649.16,307.58 649.55,306.28 649.94,306.23 650.33,307.63 650.72,307.39 651.11,307.54 651.5,307 651.92,306.21 652.33,306.22 652.75,306.22 653.17,307.53 653.58,308.48 654,308.75 654.42,309.76 654.83,308.54 655.25,308.73 655.67,310.06 656.08,311.11 656.5,310.69 656.97,311.02 657.44,311.43 657.91,309.96 658.38,309.94 658.61,310.4 658.85,311.7 659.08,311.58 659.32,310.41 659.55,313.36 659.78,314.45 660.02,314.44 660.25,313.75 660.67,313.49 661.08,314.41 661.5,314.62 661.92,314.47 662.33,314.99 662.75,315.06 663.11,314.47 663.46,313.42 663.82,313.47 664.18,314.96 664.54,313.9 664.89,313.32 665.25,312.5 665.61,311.98 665.96,311.17 666.32,312.38 666.68,312.11 667.04,311.68 667.39,311.6 667.75,310 668.17,309.95 668.58,309.06 669,308.05 669.42,308 669.83,308.59 670.25,308.75 670.56,308.21 670.88,307.38 671.19,309.3 671.5,309.54 671.81,307.27 672.12,307.04 672.44,305.76 672.75,305.56 673.2,305.71 673.64,306.5 674.09,306.32 674.54,306.56 674.99,306.57 675.43,307.28 675.88,306.88 676.15,307.05 676.41,307.31 676.68,307.19 676.95,308.9 677.22,308.64 677.48,309.32 677.75,310 677.96,310.02 678.17,311.53 678.38,310.8 678.58,312.74 678.79,311.94 679,314.05 679.21,312.72 679.42,312.45 679.62,314.13 679.83,313.39 680.04,314.24 680.25,315.31 680.61,315.39 680.96,315.98 681.32,315.35 681.68,314.88 682.04,314.35 682.39,313.74 682.75,313.12 683.06,313.39 683.38,312.65 683.69,312.31 684,310.57 684.31,311.52 684.62,310.61 684.94,309.86 685.25,310 685.75,310.74 686.25,310.74 686.75,310.29 687.25,310.01 687.75,310 688.25,308.64 688.75,308.64 689.25,308.63 689.75,308.63 690.25,309.38 690.56,309.4 690.88,309.09 691.19,310.14 691.5,309.53 691.81,308.71 692.12,305.5 692.44,306.79 692.75,306.25 693,304.94 693.25,305.53 693.5,304.45 693.75,301.81 694,302.72 694.25,303.73 694.5,301.29 694.75,302.61 695,301.94 695.25,301.88 695.48,300.29 695.7,299.92 695.93,296.85 696.16,298.53 696.39,298.21 696.61,297.83 696.84,295.83 697.07,296.44 697.3,296.8 697.52,297.41 697.75,296.75 698.06,297.3 698.37,295.81 698.68,298.1 699,298.76 699.31,297.8 699.62,299.38 699.86,298.71 700.09,299.61 700.33,300.35 700.56,302.81 700.79,302.4 701.03,303.68 701.26,302.25 701.5,302.81 701.86,303.05 702.21,302.34 702.57,302.79 702.93,302.11 703.29,302.06 703.64,299.84 704,300.62 704.27,299.7 704.54,300.03 704.81,297.99 705.07,298.15 705.34,298.89 705.61,298.99 705.88,297.55 706.19,298.98 706.5,299.24 706.82,300.58 707.13,300.6 707.44,300.02 707.75,299.68 708.11,299.28 708.46,299.87 708.82,298.4 709.18,298.56 709.54,298.41 709.89,297.42 710.25,297.5 710.54,297.26 710.83,297.13 711.12,296.72 711.42,297.96 711.71,296.18 712,295 712.16,295.55 712.33,296 712.49,296 712.65,296.01 712.82,293.7 712.98,292.22 713.14,293.53 713.3,289.94 713.47,288.37 713.63,288.77 713.79,289.62 713.96,289.72 714.12,288.75 714.59,289.83 715.06,289.83 715.53,289.84 716,288.31 716.38,290.52 716.75,289.65 717.12,290.35 717.5,289.44 717.57,289.29 717.63,287.81 717.7,288.94 717.77,290.54 717.84,290.14 717.9,290.55 717.97,289.04 718.04,286.96 718.11,286.24 718.17,282.28 718.24,280.88 718.31,281.69 718.38,281.89 718.45,284.83 718.51,284.04 718.58,282.97 718.65,283.2 718.72,280.89 718.78,282.99 718.85,281.96 718.92,280.48 718.99,280.56 719.05,278.07 719.12,277.5 719.5,278.62 719.87,278.62 720.25,278.62 720.62,276.15 721,275.62 721.31,276.53 721.63,273.89 721.94,272.05 722.25,274.54 722.57,272.03 722.88,273.12 723.06,271.4 723.24,273.14 723.42,268.44 723.6,269.78 723.78,269.18 723.96,267.94 724.14,267.94 724.32,267.94 724.5,269.06 724.8,270 725.1,267.94 725.4,267.94 725.7,269.28 726,271.06 726.47,270.03 726.94,272.18 727.41,271.57 727.88,270.81 728.05,273.81 728.22,273.22 728.39,274.73 728.56,271.35 728.73,271.12 728.9,273.48 729.07,276.58 729.24,274.73 729.41,276.14 729.58,277.32 729.75,276.2 729.86,276.3 729.97,274.74 730.08,273.58 730.19,275.07 730.3,272.38 730.41,274.79 730.52,272.66 730.63,275.46 730.74,274.98 730.85,276.46 730.96,272.57 731.07,267 731.18,267.45 731.29,269.19 731.4,269.64 731.51,267.98 731.62,268.12 731.79,269.24 731.96,266.42 732.13,266.37 732.3,267.2 732.47,268.48 732.65,266.85 732.82,269.24 732.99,266.09 733.16,262.64 733.33,262.7 733.5,263.12 733.67,263.64 733.83,264.24 734,261.35 734.17,258.94 734.33,260.97 734.5,264.24 734.67,264.01 734.83,258.1 735,256.65 735.17,255.67 735.33,256.08 735.5,256.22 735.67,257.16 735.83,257.13 736,256.25 736.42,257.37 736.83,257.37 737.25,257.37 737.67,256.57 738.08,256.73 738.5,255 738.66,254.97 738.81,250.53 738.97,249.47 739.13,248.26 739.28,248.26 739.44,248.26 739.6,248.26 739.75,248.26 739.91,248.26 740.07,248.26 740.22,250.07 740.38,249.38 740.69,249.04 741,248.25 741.32,248.68 741.63,250.3 741.94,247.64 742.25,247.19 742.48,248.28 742.72,246.77 742.95,248.87 743.18,246.07 743.42,246.3 743.65,246.07 743.89,247.57 744.12,250.62 744.3,249.5 744.48,249.5 744.66,249.5 744.84,249.5 745.02,254.47 745.2,254.87 745.38,253.75 745.65,253.78 745.92,254.17 746.19,254.44 746.46,254.51 746.73,255.32 747,256.38 747.08,253.72 747.17,254.01 747.25,253.88 747.33,252.56 747.42,251.75 747.5,253.37 747.58,252.3 747.67,253.35 747.75,253.25 747.83,252.28 747.92,249.23 748,246.38 748.08,249.14 748.17,248.51 748.25,246.79 748.33,247.94 748.42,247.3 748.5,247.5 748.71,248.62 748.93,248.62 749.14,248.62 749.36,248.62 749.57,245.97 749.79,245.07 750,244.42 750.04,245.31 750.07,245.8 750.11,246.03 750.15,246.85 750.18,247.78 750.22,247.2 750.26,246.01 750.29,246.54 750.33,247.93 750.37,249.17 750.4,248.17 750.44,249.67 750.48,254.49 750.52,252.56 750.55,252.17 750.59,249.88 750.63,253.65 750.66,256.51 750.7,254.94 750.74,257.14 750.77,253.15 750.81,258.5 750.85,260.07 750.88,257.25 750.92,256.52 750.96,256.87 750.99,256.71 751.03,254.98 751.07,252.19 751.1,255.65 751.14,255.37 751.18,261.55 751.22,262.6 751.25,259.63 751.29,260.05 751.33,258.95 751.36,261.54 751.4,262.24 751.44,260.96 751.47,262.27 751.51,262.82 751.55,264.18 751.58,266.04 751.62,266.2 751.93,264.36 752.25,262.68 752.56,262.68 752.87,262.68 753.19,262.68 753.5,263.8 753.88,262.89 754.25,262.7 754.63,264.59 755,266.29 755.38,265.75 755.69,263.42 756,263.52 756.32,262.54 756.63,262 756.94,262 757.25,263.12 757.56,262.82 757.88,262.52 758.19,260.35 758.5,259.41 758.81,258.88 759.12,258.88 759.44,258.88 759.75,260 759.89,258.8 760.04,256.76 760.18,256.85 760.33,255.18 760.47,256.25 760.61,259.28 760.76,259.09 760.9,261.12 761.04,259.61 761.19,261.12 761.33,260.97 761.48,257.76 761.62,253.75 762.05,254.87 762.47,254.87 762.9,254.87 763.32,254.35 763.75,252.44 763.89,254.52 764.02,254.91 764.16,258.4 764.29,255.4 764.43,253.61 764.57,259.2 764.7,259.2 764.84,259.2 764.97,259.2 765.11,259.2 765.24,259.2 765.38,258.08 765.47,257.61 765.57,256.45 765.66,257.1 765.75,254.55 765.85,254.7 765.94,253.65 766.03,254.02 766.13,252.75 766.22,250.68 766.31,250.59 766.41,250.68 766.5,250.36 766.59,249.21 766.69,248.34 766.78,247.58 766.87,247.31 766.97,246.6 767.06,245.18 767.15,247.17 767.25,248.69 767.34,248.02 767.43,245.18 767.53,246.3 767.62,246.3 767.7,246.25 767.79,245.23 767.87,247.56 767.95,249.4 768.04,251.52 768.12,247.5 768.2,250.7 768.29,253.57 768.37,250.44 768.45,249.9 768.54,250.27 768.62,247.41 768.7,252.39 768.79,252.87 768.87,254.15 768.95,256.12 769.04,255.17 769.12,255 769.25,254.89 769.37,253.88 769.5,253.88 769.62,254.61 769.75,256.1 769.87,253.88 770,254.16 770.12,253.96 770.25,261.36 770.37,260.86 770.5,259.98 770.62,259.8 770.75,260.92 770.87,261.21 771,262.5 771.11,261.84 771.22,262.47 771.33,261.84 771.43,262.58 771.54,263.59 771.65,266.49 771.76,268.52 771.87,272.26 771.98,271.35 772.09,268.98 772.2,267.27 772.3,268.1 772.41,272.61 772.52,268.85 772.63,267.07 772.74,267.76 772.85,267.45 772.96,269.08 773.07,268.62 773.17,270.22 773.28,270.6 773.39,272.1 773.5,273.7 773.74,271.09 773.97,269 774.21,268.93 774.44,269.02 774.67,268.93 774.91,268.93 775.14,268.93 775.38,270.05 775.69,271.51 776,271.12 776.32,273.73 776.63,272.92 776.94,272.25 777.25,272.05 777.57,272.9 777.88,273.08 778.09,272.42 778.3,273.29 778.5,274.15 778.71,270.01 778.92,271.52 779.13,269.29 779.33,270.47 779.54,270.08 779.75,268.75 779.87,267.61 780,265.48 780.12,267.12 780.25,266.12 780.37,265.73 780.5,264.11 780.62,265.32 780.75,261.85 780.87,260.13 781,260.13 781.12,265.38 781.25,260.9 781.37,260.22 781.5,260.36 781.62,261.25 781.84,258.92 782.05,258.39 782.27,259.15 782.49,259.84 782.7,260.06 782.92,262.37 783.13,262.37 783.35,261.5 783.57,257.99 783.78,257.52 784,256.25 784.29,255.3 784.59,253.88 784.88,255 785.19,254.1 785.5,255.44 785.82,254.9 786.13,252.65 786.44,253.42 786.75,251.83 787.07,252.18 787.38,251.88 787.88,250.24 788.38,249.88 788.88,249.88 789.38,249.88 789.88,251 789.97,249.92 790.06,251.41 790.16,250.92 790.25,250.8 790.34,254.49 790.43,254.99 790.53,252.33 790.62,254.68 790.71,255.52 790.8,258.9 790.89,253.9 790.99,255.14 791.08,260.95 791.17,261.46 791.26,260.81 791.35,259.7 791.45,262.24 791.54,259.85 791.63,260.19 791.72,262.02 791.82,262.87 791.91,263.57 792,262.45 792.12,263.33 792.25,262.4 792.38,261.87 792.5,259.31 792.62,259.03 792.75,256.31 792.88,259 793,262.59 793.12,263.57 793.25,261.95 793.38,261.95 793.5,256.65 793.62,256.15 793.75,257.28 793.88,256.71 794,255.49 794.12,254.31 794.25,253.75 794.37,253.3 794.5,252.14 794.62,252.53 794.75,254.81 794.87,250.12 795,247.6 795.12,252.34 795.25,247.75 795.37,245.13 795.5,245.13 795.62,246.54 795.75,249.32 795.87,247.14 796,246.14 796.12,246.25 796.5,245.9 796.87,247.37 797.25,247.37 797.62,245.75 798,245 798.11,245.82 798.22,245.82 798.33,246.12 798.44,245.58 798.55,246.12 798.66,245.88 798.77,246.12 798.88,246.12 799,244.87 799.11,239.87 799.22,237.48 799.33,240.08 799.44,237.02 799.55,239.07 799.66,238.79 799.77,238.19 799.88,236.88 800.3,235.99 800.71,235.57 801.13,235.9 801.55,236.25 801.96,235.92 802.38,235.13 802.48,235.07 802.59,237.41 802.69,239.05 802.8,238.75 802.9,240.42 803,238.98 803.11,235.94 803.21,236.28 803.32,237.59 803.42,234.01 803.52,237.06 803.63,237.23 803.73,240.75 803.83,242.21 803.94,242.17 804.04,241.91 804.15,242.21 804.25,243.75 804.67,242.63 805.08,242.63 805.5,244.73 805.92,245.93 806.33,246.18 806.75,245.06 806.89,246.18 807.04,245.47 807.18,245.67 807.33,243.58 807.47,244.67 807.61,240.04 807.76,241.91 807.9,244.09 808.04,241.77 808.19,243.94 808.33,243.46 808.48,241.43 808.62,238.8 808.75,240.82 808.87,242.31 809,246.34 809.12,247.14 809.25,244.43 809.37,245.6 809.5,247.37 809.62,247.37 809.75,244.66 809.87,244.59 810,242.12 810.12,246.54 810.25,245.81 810.37,245.93 810.5,246.25 810.63,248.16 810.75,251.39 810.88,253.33 811,254.67 811.13,252.3 811.25,249.87 811.38,250.09 811.5,248.2 811.63,247.27 811.75,249.4 811.88,253.7 812,252.09 812.13,254.75 812.25,252.18 812.38,253.75 812.46,254.28 812.54,253.41 812.62,254.72 812.71,257.46 812.79,253.72 812.87,256.35 812.95,257.14 813.03,260.45 813.11,259.14 813.19,262.51 813.27,260.73 813.36,257.6 813.44,260.73 813.52,258.74 813.6,258.53 813.68,260.94 813.76,258.61 813.84,261.7 813.92,263.5 814.01,262.39 814.09,263.57 814.17,263.93 814.25,265 814.33,266.67 814.42,268.13 814.5,270.67 814.58,273.41 814.67,272.05 814.75,270.88 814.83,272.33 814.92,273.3 815,273.62 815.08,273.62 815.17,273.62 815.25,273.62 815.33,273.62 815.42,273.62 815.5,272.5 815.55,272.8 815.59,272.5 815.64,273.33 815.68,272.79 815.73,277.8 815.77,278.26 815.82,272.31 815.86,273.6 815.91,275.75 815.95,271.38 816,276.54 816.05,276.31 816.09,276.98 816.14,279.01 816.18,277.66 816.23,282.49 816.27,286.82 816.32,281.71 816.36,274.66 816.41,275.8 816.45,278.2 816.5,280.5 816.55,283.81 816.59,284.63 816.64,284.77 816.68,286.91 816.73,287.24 816.77,285.61 816.82,285.86 816.86,285.75 816.91,286.67 816.95,288.43 817,288.7 817.11,288.56 817.22,288.65 817.32,284.77 817.43,287.11 817.54,282.09 817.65,284.15 817.76,286.92 817.86,286.73 817.97,289.65 818.08,289.2 818.19,282.12 818.3,286.09 818.4,284.69 818.51,282.32 818.62,281.18 819,282.21 819.37,280.06 819.75,280.06 820.12,281.22 820.5,282.5 820.64,282.32 820.79,282.29 820.93,281.38 821.08,281.38 821.22,281.38 821.37,281.53 821.51,287.48 821.66,289.78 821.8,289.86 821.95,289.85 822.09,289.85 822.24,289.76 822.38,288.75 822.52,291.41 822.67,293.06 822.81,292.24 822.96,290.69 823.1,295.99 823.24,294.23 823.39,295.98 823.53,295.97 823.67,294.68 823.82,295.5 823.96,295.95 824.11,295.64 824.25,294.95 824.62,295.94 825,295.94 825.37,295.2 825.75,293.23 826.12,293.18 826.2,293.86 826.28,294.06 826.36,295.55 826.45,296.28 826.53,292.21 826.61,292.58 826.69,292.23 826.77,297.32 826.85,299.71 826.93,300.89 827.02,300.24 827.1,297.38 827.18,299.95 827.26,299.54 827.34,300.35 827.42,301.25 827.51,301.31 827.59,302.04 827.67,302.28 827.75,303.08 827.91,303.77 828.08,303.95 828.24,300.45 828.41,303.53 828.57,299.68 828.73,299.1 828.9,298.2 829.06,299.5 829.22,297.57 829.39,297.47 829.55,297.22 829.72,297.99 829.88,297 830.35,296.29 830.82,297.54 831.28,296.41 831.75,298 831.92,296.42 832.09,292.41 832.26,293.81 832.43,296.37 832.6,295.26 832.77,294.7 832.94,293.79 833.11,294.32 833.28,291.63 833.45,291.8 833.62,292.63 834,291.78 834.37,293.62 834.75,291.63 835.12,291.7 835.5,294 835.97,293.08 836.44,292.24 836.91,293.26 837.38,293.12 837.48,293.06 837.58,294.15 837.68,293.6 837.77,293.88 837.87,293.65 837.97,291.16 838.07,294.18 838.17,291.95 838.27,287.23 838.36,287.72 838.46,290.19 838.56,288.79 838.66,288.44 838.76,288.89 838.86,285.1 838.95,283.71 839.05,282.82 839.15,284.22 839.25,283.94 839.72,284.51 840.18,285.18 840.65,284.12 841.12,284.19 841.39,284.29 841.66,283.51 841.93,282.62 842.19,281.52 842.46,283.64 842.73,283.14 843,281.44 843.5,281.13 844,283 844.5,281.88"/>
<polyline stroke="#0070c0" points="76.5,333.75 76.81,335.53 77.12,335.65 77.44,334.97 77.75,335.62 78.11,335.88 78.46,335.14 78.82,335.14 79.18,335.32 79.54,336.07 79.89,337.01 80.25,337.75 80.75,337.58 81.25,337.73 81.75,337.27 82.25,338.7 82.75,338.75 83.27,339.16 83.79,339.23 84.31,339.17 84.84,339.23 85.36,339.23 85.88,338.75 86.33,338.74 86.77,338.68 87.22,338.61 87.66,338.86 88.11,338.12 88.55,337.55 89,337.5 89.47,337.73 89.94,337.66 90.41,337.63 90.88,337.16 91.34,336.7 91.81,336.03 92.28,336 92.75,335.62 93.22,335.5 93.69,335.39 94.16,335.36 94.62,335.52 95.09,335.69 95.56,335.43 96.03,335.32 96.5,335.62 96.97,335.51 97.44,335.34 97.91,335.14 98.38,335.14 98.84,335.3 99.31,335.3 99.78,336.18 100.25,336.25 100.7,336.9 101.14,337 101.59,337.43 102.04,337.29 102.49,337.45 102.93,337.41 103.38,337.49 103.9,337.69 104.42,337.74 104.94,337.37 105.46,337.63 105.98,337.34 106.5,336.88 106.97,337.03 107.44,337.14 107.91,336.82 108.38,336.67 108.84,336.93 109.31,336.62 109.78,336.59 110.25,336.61 110.72,336.13 111.19,336.22 111.66,336.36 112.12,337.27 112.59,337.57 113.06,337.92 113.53,338.52 114,338.12 114.5,338.63 115,338.63 115.5,338.85 116,338.46 116.5,338.39 117,337.98 117.5,337.9 118,337.62 118.5,337.49 119,337.75 119.47,337.59 119.94,336.96 120.41,337.71 120.88,337.26 121.34,336.59 121.81,337.28 122.28,336.45 122.75,336.7 123.25,336.73 123.75,336.34 124.25,336.95 124.75,336.8 125.25,337.75 125.48,338.47 125.72,338.57 125.95,337.9 126.19,339.18 126.42,341.26 126.65,340.95 126.89,341.17 127.12,341.25 127.57,341.99 128.01,342.3 128.46,342.28 128.91,341.77 129.36,342.52 129.8,343.27 130.25,343.12 130.72,343.65 131.19,343.97 131.65,344.48 132.12,344 132.43,343.64 132.75,343.38 133.06,343.45 133.37,342.96 133.69,342.21 134,341.88 134.5,341.65 135,341.58 135.5,341.59 136,341.75 136.5,341.25 137,341.13 137.5,341.17 138,341.22 138.5,341.32 139,341.25 139.42,340.73 139.83,340.33 140.25,340.38 140.67,339.74 141.08,340.45 141.5,339.75 142,339.7 142.5,339.46 143,340.36 143.5,340.57 144,340.25 144.5,340.59 145,340.61 145.5,340.3 146,339.8 146.5,339.75 146.97,339.44 147.44,339.73 147.91,340.08 148.38,340.34 148.84,340.34 149.31,341.1 149.78,340.87 150.25,340.62 150.67,341.13 151.08,341.81 151.5,342.31 151.92,342.19 152.33,342.11 152.75,343.23 153.17,343.08 153.58,343.21 154,342.75 154.52,342.71 155.04,342.83 155.56,343.6 156.08,343.6 156.6,343.55 157.12,343.12 157.57,343.93 158.01,343.97 158.46,343.73 158.91,344.09 159.36,343.93 159.8,344.48 160.25,344.38 160.72,344.75 161.19,344.77 161.66,345.4 162.12,346.03 162.59,346.1 163.06,345.93 163.53,345.86 164,345.62 164.5,345.96 165,346.45 165.5,346 166,346.34 166.5,346.06 166.97,346.08 167.44,345.86 167.91,345.44 168.38,345.61 168.84,344.66 169.31,344.39 169.78,344.42 170.25,344.38 170.72,344.29 171.19,344.21 171.66,344.45 172.12,344.17 172.59,343.6 173.06,343.39 173.53,343.2 174,343.12 174.47,343.36 174.94,343.6 175.41,343.6 175.88,343.6 176.34,343.6 176.81,343.38 177.28,343.12 177.75,342.69 178.25,343.54 178.75,343.6 179.25,343.42 179.75,343.3 180.25,343.12 180.67,343.09 181.08,343.13 181.5,343.4 181.92,343.64 182.33,344.13 182.75,344.38 183.22,344.47 183.69,344.35 184.16,344.89 184.62,344.44 185.09,344.37 185.56,344.84 186.03,345.55 186.5,345.62 186.97,345.75 187.44,346.04 187.91,345.61 188.38,345.88 188.84,345.74 189.31,346.05 189.78,345.64 190.25,345.62 190.88,345.81 191.5,345.62 191.97,345.95 192.44,346.1 192.91,346.1 193.38,345.91 193.84,345.23 194.31,344.88 194.78,345.13 195.25,345.36 195.69,345.65 196.12,345.83 196.56,346.07 197,346.59 197.44,346.51 197.88,346.97 198.31,346.77 198.75,347.26 199.09,346.17 199.44,346.03 199.78,345.41 200.12,345.13 200.47,345.01 200.81,344.25 201.16,344.64 201.5,344.38 201.95,343.62 202.39,342.94 202.84,343.08 203.28,343.2 203.73,343.29 204.17,343.07 204.62,342.5 205.12,342.6 205.62,341.31 206.12,341.25 206.62,341.86 207.12,341.73 207.64,341.47 208.16,342.19 208.69,342.5 209.21,342 209.73,342.23 210.25,342.02 210.46,341.5 210.67,342.2 210.87,342.14 211.08,341.15 211.29,340.17 211.5,340.73 211.7,339.88 211.91,339.27 212.12,338.12 212.64,338.09 213.16,338.05 213.69,338.21 214.21,337.39 214.73,337.33 215.25,337.25 215.75,336.85 216.25,336.84 216.75,336.38 217.25,336.93 217.75,336.55 218.2,336.76 218.64,337.16 219.09,337.13 219.54,337.54 219.99,337.07 220.43,337.09 220.88,337.82 221.3,337.36 221.71,337.13 222.13,337.57 222.55,336.61 222.96,335.88 223.38,336.26 223.85,336.59 224.31,337.42 224.78,336.62 225.25,337.23 225.67,336.56 226.08,336.24 226.5,336.26 226.92,336.13 227.33,336.14 227.75,336 228.2,335.7 228.64,336.02 229.09,335.39 229.54,334.76 229.99,334.94 230.43,334.96 230.88,335.12 231.4,334.74 231.92,334.68 232.44,334.64 232.96,334.8 233.48,335.58 234,335.62 234.36,335.56 234.71,334.65 235.07,334.07 235.43,333.81 235.79,333.24 236.14,333.45 236.5,333.5 236.89,333.19 237.28,332.65 237.67,332.56 238.06,332.08 238.45,332.4 238.84,331.83 239.23,331.37 239.62,331.25 240.04,330.87 240.45,330.68 240.87,330.06 241.29,330.03 241.7,329.41 242.12,329.75 242.64,329.58 243.16,330.02 243.69,329.99 244.21,330.73 244.73,330.39 245.25,330.25 245.72,330.16 246.19,330.41 246.66,330.31 247.12,330.14 247.59,330.04 248.06,329.57 248.53,329.25 249,329.38 249.31,328.47 249.62,327.26 249.94,326.97 250.25,327.95 250.56,327.37 250.88,327.43 251.19,327.22 251.5,326.25 251.86,326.57 252.21,325.89 252.57,324.77 252.93,324.01 253.29,323.33 253.64,323.78 254,323.75 254.52,324.02 255.04,323.82 255.56,324.06 256.08,324.27 256.6,323.69 257.12,323.31 257.62,324.22 258.12,324.09 258.62,324.27 259.12,324.27 259.62,323.75 260.14,324.71 260.66,324.71 261.19,324.33 261.71,324.04 262.23,323.81 262.75,324.19 263.06,324.34 263.38,324.3 263.69,323.49 264,323.73 264.31,323.11 264.63,322.88 264.94,321.26 265.25,320.42 265.57,320.59 265.88,320.56 266.33,320.36 266.77,320 267.22,320.22 267.66,320.87 268.11,320.4 268.55,321.47 269,321.69 269.52,321.87 270.04,321.38 270.56,321.16 271.08,320.88 271.6,320.96 272.12,321.44 272.36,322.29 272.59,321.25 272.82,322.56 273.06,324.05 273.3,323.58 273.53,323.65 273.76,324.24 274,325 274.5,326.08 275,326.26 275.5,326.16 276,326.47 276.5,326.05 276.95,325.6 277.39,326.07 277.84,326.1 278.28,325.94 278.73,325.28 279.17,324.46 279.62,324.38 280.07,323.89 280.51,323.58 280.96,323.14 281.41,323.23 281.86,323.1 282.3,322.94 282.75,322.5 283.27,322.44 283.79,322.04 284.31,321.34 284.84,321.46 285.36,321.53 285.88,321.88 286.4,321.4 286.92,321.28 287.44,321.78 287.96,321.44 288.48,321.47 289,321 289.42,321.56 289.83,321.26 290.25,321.09 290.67,321.22 291.08,322.05 291.5,322.5 291.95,322.42 292.39,322.82 292.84,321.98 293.28,322.83 293.73,323.17 294.17,323.74 294.62,324.43 295.09,323.68 295.56,323.36 296.03,322.7 296.5,322.35 296.97,322.35 297.44,323.1 297.91,322.76 298.38,322.88 298.9,323.51 299.42,323.32 299.94,322.68 300.46,323.4 300.98,323.74 301.5,323.75 302,323.23 302.5,323.52 303,323.34 303.5,324.11 304,324.8 304.42,324.23 304.83,323.92 305.25,323.12 305.67,322.73 306.08,321.92 306.5,321.94 306.92,323.15 307.33,322.69 307.75,322.44 308.17,323.09 308.58,323.34 309,322.9 309.42,323.31 309.83,323.71 310.25,323.75 310.56,324.57 310.88,324.38 311.16,325.2 311.44,325.69 311.71,326.04 311.99,326.93 312.27,327.21 312.55,327.68 312.82,328.6 313.1,327.97 313.38,328.12 313.83,328.13 314.27,328.26 314.72,328.03 315.16,328.75 315.61,329.16 316.05,329.45 316.5,329.62 317.02,330.11 317.54,330 318.06,329.17 318.58,329.23 319.1,329.09 319.62,328.75 320.14,328.49 320.66,329 321.19,328.8 321.71,328.81 322.23,328.99 322.75,328.57 323.22,328.67 323.69,328.58 324.16,329.3 324.62,329.3 325.09,328.82 325.56,329.1 326.03,329.16 326.5,329.38 326.95,329.45 327.39,329.37 327.84,329.36 328.28,327.79 328.73,327.77 329.17,328.07 329.62,328.12 330.14,327.68 330.66,327.77 331.19,327.85 331.71,328.09 332.23,327.91 332.75,327.25 333.06,327.31 333.38,326.89 333.69,327.51 334,328.15 334.31,329.08 334.63,329.19 334.94,330.68 335.25,330.74 335.57,330.51 335.88,331.25 336.37,331.19 336.85,331.31 337.34,331.35 337.82,330.77 338.31,331.22 338.79,331.19 339.28,331.22 339.76,331.34 340.25,331.43 340.72,331.25 341.19,331.42 341.66,331.37 342.12,331.89 342.59,331.09 343.06,330.85 343.53,330.59 344,331.07 344.47,330.59 344.94,330.9 345.41,330.59 345.88,330.59 346.34,330.59 346.81,330.59 347.28,330.77 347.75,331.25 348.27,330.84 348.79,330.88 349.31,331.41 349.84,331.11 350.36,330.81 350.88,331.69 350.99,331.34 351.11,330.84 351.22,330.18 351.33,329.99 351.44,330 351.56,330.59 351.67,330.25 351.78,327.77 351.89,327.93 352.01,326.96 352.12,326.25 352.57,325.53 353.01,325.52 353.46,325.25 353.91,325.05 354.36,325.48 354.8,325.25 355.25,324.75 355.72,324.98 356.19,324.61 356.66,324.91 357.12,325.26 357.59,324.82 358.06,324.65 358.53,324.62 359,324.38 359.5,324.27 360,324.52 360.5,324.5 361,324.48 361.5,323.5 361.95,324.29 362.39,324.61 362.84,324.59 363.28,323.83 363.73,323.66 364.17,324.16 364.62,325.25 365.14,325.08 365.66,324.88 366.19,324.64 366.71,323.89 367.23,324.18 367.75,324.38 368.2,323.37 368.64,322.98 369.09,323.17 369.54,323.61 369.99,324 370.43,323.62 370.88,323.5 371.27,323.43 371.66,323.87 372.05,324.73 372.44,325.41 372.83,325.09 373.22,325.49 373.61,325.92 374,325.62 374.52,325.21 375.04,325.13 375.56,325.26 376.08,325.45 376.6,325.92 377.12,326.25 377.62,325.99 378.12,325.77 378.62,326.15 379.12,326.27 379.62,326.69 380.04,326.46 380.45,325.17 380.87,324.65 381.29,324.51 381.7,324.5 382.12,325 382.62,324.98 383.12,325.08 383.62,324.7 384.12,324.9 384.62,325 384.85,324.52 385.07,325.07 385.3,324.42 385.53,324.05 385.76,325.54 385.98,325.54 386.21,323.24 386.44,322.51 386.67,321.3 386.89,320.11 387.12,320 387.4,319.38 387.68,318.89 387.95,318.73 388.23,317.76 388.51,318.08 388.79,318.93 389.06,316.8 389.34,316.79 389.62,316.25 390.14,316.5 390.66,315.85 391.19,316.16 391.71,315.79 392.23,316.26 392.75,315.81 393.25,315.16 393.75,315.16 394.25,315.95 394.75,315.52 395.25,316.25 395.61,316.18 395.96,316.71 396.32,317.86 396.68,318.23 397.04,317.55 397.39,318.06 397.75,318.38 398.2,318.19 398.64,317.77 399.09,316.89 399.54,316.89 399.99,316.88 400.43,316.88 400.88,317.5 401.33,316.67 401.77,316.53 402.22,317.18 402.66,316.82 403.11,316.07 403.55,315.91 404,316.44 404.5,316.47 405,315.8 405.5,316.37 406,316.44 406.5,316.88 406.97,317.46 407.44,316.33 407.91,316.63 408.38,317.31 408.59,315.82 408.8,316.27 409,315.66 409.21,315.33 409.42,314.13 409.63,315.44 409.84,315.86 410.05,313.83 410.25,313.45 410.46,313.88 410.67,312.41 410.88,311.88 411.33,312.4 411.77,312.29 412.22,312.34 412.66,311.38 413.11,310.85 413.55,310.89 414,310.56 414.42,311.56 414.83,312.12 415.25,312.66 415.67,311.26 416.08,312.38 416.5,312.18 416.89,311.3 417.28,312.15 417.67,312.41 418.06,311.54 418.45,310.73 418.84,310.1 419.23,309.64 419.62,309.38 420.11,309.73 420.59,310 421.08,308.82 421.57,307.77 422.05,308.99 422.54,308.92 423.03,307.76 423.51,308.64 424,307.63 424.31,308.76 424.62,309.39 424.94,309.6 425.25,308.3 425.56,309.9 425.88,311.04 426.19,310.74 426.5,310.62 426.95,310.48 427.39,311.55 427.84,312.6 428.28,311.88 428.73,312.19 429.17,312.15 429.62,311.88 430.14,312.41 430.66,312.18 431.19,312.59 431.71,312.59 432.23,312.2 432.75,311.88 433.1,312.71 433.45,313.81 433.79,315.61 434.14,314.64 434.49,313.28 434.84,315.08 435.18,313.85 435.53,314.41 435.88,315 436.35,314.79 436.81,314.34 437.28,314.34 437.75,314.35 438.22,314.35 438.69,315.05 439.15,315.43 439.62,315.7 439.98,314.2 440.33,313.91 440.69,314.55 441.05,315.06 441.41,314.98 441.76,313.7 442.12,313.12 442.57,313.67 443.01,313.75 443.46,313.08 443.91,312.95 444.36,311.18 444.8,312.08 445.25,311.88 445.44,311.23 445.63,310.78 445.83,310.89 446.02,311.49 446.21,312.18 446.4,307.78 446.6,309.49 446.79,306.58 446.98,306.42 447.17,306.46 447.37,305.07 447.56,305.91 447.75,305.62 448.14,304.47 448.53,303.76 448.92,305.77 449.31,304.06 449.71,304 450.1,303.28 450.49,303.48 450.88,303.12 451.3,303.86 451.71,303.98 452.13,303.99 452.55,303.99 452.96,301.8 453.38,301.25 453.52,300.44 453.67,301.77 453.81,300.44 453.96,301.18 454.1,296.97 454.24,296.23 454.39,296.92 454.53,296.62 454.67,297.68 454.82,297.81 454.96,295.32 455.11,294.82 455.25,294.94 455.75,295.01 456.25,294.55 456.75,296.12 457.25,295.87 457.75,295.69 458.12,295.28 458.5,293.67 458.87,296.52 459.25,295.84 459.62,294.06 459.9,293.82 460.19,295.25 460.47,295.8 460.76,295.32 461.04,296.38 461.33,296.78 461.61,295.34 461.9,297.68 462.18,297.77 462.47,298.96 462.75,298.7 463.03,297.61 463.31,296.17 463.58,295.44 463.86,296.29 464.14,296.17 464.42,297.94 464.69,296.05 464.97,295.78 465.25,295 465.39,294.59 465.54,293.76 465.68,296 465.83,296.01 465.97,293.39 466.11,294.82 466.26,291.22 466.4,293.17 466.54,292.56 466.69,289.25 466.83,289.74 466.98,289.04 467.12,288.75 467.26,287.08 467.41,287.36 467.55,283.15 467.7,282.44 467.84,284.86 467.99,282.34 468.13,281.38 468.28,281.38 468.42,281.38 468.57,281.38 468.71,283.15 468.86,284.08 469,282.5 469.42,282.24 469.83,281.95 470.25,283.1 470.67,282.14 471.08,281.94 471.5,280.62 471.63,281.74 471.77,279.95 471.9,281.74 472.04,281.74 472.17,281.56 472.31,279.11 472.44,275.36 472.57,273.69 472.71,276.45 472.84,274.72 472.98,274.78 473.11,274.99 473.25,273.66 473.38,273.75 473.61,274.49 473.85,274.87 474.08,269.82 474.31,272.37 474.55,268.88 474.78,268.88 475.02,270.76 475.25,270 475.72,271.12 476.19,270.89 476.65,268 477.12,269.12 477.21,268.44 477.3,268.67 477.39,269.21 477.48,270.09 477.57,272.25 477.66,268.71 477.75,271.53 477.84,275.22 477.93,276.53 478.02,275.37 478.11,273.85 478.2,273.74 478.29,274.85 478.38,276.2 478.43,275.95 478.49,276.43 478.54,275.87 478.6,275.75 478.65,277.32 478.7,277.32 478.76,274.51 478.81,275.66 478.87,275.64 478.92,274.92 478.97,266.05 479.03,270.6 479.08,269.15 479.13,273.72 479.19,270.53 479.24,272.89 479.3,273.73 479.35,269.34 479.4,266.77 479.46,267.48 479.51,267.36 479.57,266.28 479.62,265 479.89,265.28 480.16,265.59 480.43,261.62 480.69,260.8 480.96,261.11 481.23,261.16 481.5,261.92 481.71,260.96 481.92,262.33 482.13,265.35 482.34,262.72 482.54,261.66 482.75,261.1 482.96,264.16 483.17,264.82 483.38,266.25 483.55,266.6 483.72,269.4 483.89,268.25 484.06,269.17 484.23,266.9 484.4,267.69 484.57,271.18 484.74,272.37 484.91,272.37 485.08,272.37 485.25,271.25 485.56,272.41 485.87,270.24 486.19,274.84 486.5,273.53 486.81,275 487.12,273.88 487.19,273.01 487.26,272.49 487.34,271.17 487.41,270.29 487.48,267.52 487.55,271.42 487.63,275 487.7,272.42 487.77,272.4 487.84,271.1 487.92,270.62 487.99,268.84 488.06,269.03 488.13,267.84 488.2,265.97 488.28,268.74 488.35,269.21 488.42,269.19 488.49,267.42 488.57,265.91 488.64,261.07 488.71,260.22 488.78,261.65 488.86,260.26 488.93,260.13 489,261.25 489.25,261.62 489.5,262.37 489.75,261.21 490,260.37 490.25,259.06 490.52,259.49 490.78,257.94 491.05,257.94 491.32,257.94 491.59,257.94 491.85,257.94 492.12,261.82 492.39,259.34 492.66,258.57 492.93,259.84 493.19,258.92 493.46,258.23 493.73,259.05 494,258.75 494.28,257.01 494.57,257.8 494.85,258.26 495.13,259.87 495.42,259.87 495.7,257.29 495.99,257.12 496.27,258.14 496.55,255.99 496.84,255.32 497.12,254.42 497.23,255.51 497.34,255.27 497.45,256.75 497.56,256.25 497.67,258.27 497.78,257.15 497.89,258.88 498,259.47 498.12,257.72 498.23,259.1 498.34,258.76 498.45,260.39 498.56,260.18 498.67,259.25 498.78,260.7 498.89,262.2 499,262.5 499.13,262.75 499.25,261.38 499.38,261.38 499.5,261.38 499.63,261.38 499.75,261.38 499.88,261.38 500,261.38 500.13,266.72 500.25,269.99 500.38,267.52 500.5,268.34 500.63,270.15 500.75,271.11 500.88,270 501.19,269.97 501.5,271.75 501.81,272.09 502.13,273.75 502.44,272.36 502.75,272.62 502.87,271.08 502.98,270.01 503.1,271.72 503.22,270.52 503.33,272.5 503.45,271.29 503.57,266.57 503.69,267.54 503.8,269.73 503.92,269.36 504.04,264.66 504.15,264.17 504.27,263.88 504.39,265.16 504.5,265.04 504.62,265 504.78,262.92 504.93,262.25 505.09,262.09 505.25,261.47 505.4,265.83 505.56,263.96 505.71,257.77 505.87,260.64 506.03,262.62 506.18,262.46 506.34,260.03 506.5,261.29 506.65,257.05 506.81,258.72 506.96,258.29 507.12,257.5 507.36,255.3 507.59,255.02 507.82,255.34 508.06,252.63 508.3,252.63 508.53,253.71 508.76,253.78 509,253.75 509.45,254.47 509.9,254.87 510.35,254.44 510.8,252.76 511.25,253.31 511.28,254.32 511.32,254.49 511.35,256.23 511.38,255.21 511.42,257.39 511.45,254.92 511.48,253.34 511.52,254.45 511.55,252.48 511.58,254.94 511.62,256.18 511.65,253.7 511.69,261.47 511.72,264.42 511.75,263.7 511.79,261.03 511.82,263.55 511.85,263.31 511.89,266.49 511.92,267.37 511.95,266.75 511.99,266.82 512.02,267.37 512.05,266.67 512.09,267.37 512.12,266.25 512.16,267.41 512.19,268.88 512.23,267.81 512.27,272.29 512.3,268.47 512.34,267.72 512.38,265.13 512.41,266.12 512.45,266.85 512.49,275.46 512.52,274.52 512.56,272.46 512.6,277.35 512.63,277.96 512.67,276.44 512.71,277.84 512.74,279.24 512.78,279.24 512.82,279.24 512.85,279.24 512.89,279.24 512.93,279.24 512.96,279.03 513,278.12 513.48,278.87 513.96,278.56 514.44,277.97 514.92,277.26 515.4,277.9 515.88,278.56 516.07,276.53 516.25,272.63 516.44,272.63 516.63,272.63 516.82,272.63 517,272.63 517.19,272.63 517.38,272.63 517.56,272.63 517.75,273.75 517.96,270.53 518.17,270.79 518.38,270.45 518.58,271.34 518.79,272.89 519,271.25 519.42,272.37 519.83,271.91 520.25,271.72 520.67,270.04 521.08,271.09 521.5,270 521.64,271.12 521.79,271.12 521.93,271.12 522.08,269.93 522.22,268.39 522.37,270.2 522.51,265.35 522.66,262.63 522.8,264.57 522.95,266.4 523.09,265.41 523.24,265.53 523.38,263.75 523.75,263.7 524.13,261.89 524.5,262.21 524.88,261.48 525.25,262.44 525.35,262.52 525.45,264.67 525.55,261.32 525.64,265.56 525.74,264 525.84,262.8 525.94,263.71 526.04,269.04 526.14,270.48 526.23,266.05 526.33,266.09 526.43,270.64 526.53,272.94 526.63,272.94 526.73,272.32 526.82,272.94 526.92,272.94 527.02,270.89 527.12,271.82 527.18,270.9 527.24,270.41 527.3,268.34 527.36,268.69 527.42,266.77 527.48,265.96 527.54,268.91 527.6,268.39 527.66,264.57 527.72,261.99 527.78,261.92 527.84,262.85 527.9,266 527.96,268.76 528.02,265.95 528.08,266.07 528.14,264.73 528.2,265.75 528.26,266.8 528.32,263.95 528.38,261.25 528.49,262.37 528.61,261.88 528.72,259.71 528.83,262.37 528.94,259.33 529.06,256.91 529.17,254.56 529.28,254.56 529.39,255.46 529.51,254.56 529.62,255.68 529.89,254.56 530.16,254.56 530.43,254.56 530.69,258.65 530.96,257.58 531.23,257.87 531.5,258.75 531.86,258.38 532.21,258.68 532.57,258.04 532.93,260.93 533.29,259.28 533.64,261.14 534,261.25 534.12,261.03 534.25,263.05 534.38,262.14 534.5,262.44 534.62,263.67 534.75,263.44 534.88,266.42 535,266.58 535.12,267.94 535.25,267.94 535.38,267.94 535.5,266.82 535.54,266.83 535.58,266.81 535.62,266.76 535.67,262.77 535.71,259.44 535.75,261.52 535.79,264.22 535.83,262.09 535.88,261.99 535.92,259.6 535.96,259.6 536,256.19 536.04,253.88 536.08,253.88 536.12,257.07 536.17,256.21 536.21,259.34 536.25,257.94 536.29,255.53 536.33,254.97 536.38,255.3 536.42,255.42 536.46,254.56 536.5,255 536.57,254.43 536.63,252.97 536.7,253.32 536.77,250.52 536.84,251.8 536.9,251.42 536.97,251.83 537.04,252.6 537.1,254.2 537.17,254.12 537.24,254.58 537.31,254.35 537.37,254.7 537.44,251.76 537.51,253.93 537.57,255.15 537.64,254.09 537.71,250.91 537.78,250.26 537.84,249.58 537.91,250.24 537.98,246.91 538.04,247 538.11,243.95 538.18,243.42 538.25,243.31 538.31,243.68 538.38,241.25 538.48,238.73 538.59,239.24 538.69,238.28 538.8,235.19 538.9,234.65 539,236.57 539.11,235.73 539.21,231.78 539.32,233.18 539.42,236.21 539.52,235.33 539.63,234.34 539.73,234.24 539.83,236.15 539.94,232.4 540.04,231.93 540.15,232.93 540.25,232.5 540.39,229.44 540.54,229.1 540.68,228.4 540.83,231.2 540.97,228.04 541.11,226.33 541.26,231.62 541.4,231.83 541.54,230.07 541.69,231.51 541.83,228.24 541.98,225.2 542.12,226.25 541.95,225.43 541.79,223.88 541.62,225 541.75,223.62 541.87,221.9 542,221.15 542.12,221.81 542.25,221.59 542.38,219.52 542.5,218.88 542.63,221 542.75,221.65 542.88,220 543.3,221.02 543.71,218.9 544.13,218.5 544.55,217.97 544.96,217 545.38,218.12 545.45,216.1 545.52,215.13 545.59,216.02 545.66,218.56 545.72,219.24 545.79,217.11 545.86,217.7 545.93,216.63 546,213.75 546.42,214.57 546.83,214.87 547.25,213.17 547.67,211.38 548.08,211.49 548.5,212.5 548.55,209.65 548.6,207.02 548.64,205.97 548.69,206.61 548.74,205.7 548.79,206.2 548.83,208.94 548.88,210.24 548.93,209.39 548.98,208.99 549.02,206.07 549.07,207.36 549.12,206.25 549.43,204.75 549.75,202.63 550.06,202.63 550.37,202.72 550.69,202.63 551,203.75 551.03,203.28 551.07,203.67 551.1,203.63 551.14,202.98 551.17,204.21 551.2,201.01 551.24,202.9 551.27,201.58 551.3,197.2 551.34,192.62 551.37,194.7 551.41,195.43 551.44,196.31 551.47,199.07 551.51,198.75 551.54,198.29 551.58,195.52 551.61,197.6 551.64,195 551.68,193.43 551.71,194.03 551.74,193.85 551.78,190.84 551.81,190.85 551.85,190.13 551.88,190.62 552.17,190.79 552.46,188.37 552.75,189.49 552.8,189.88 552.85,192.7 552.9,194.39 552.95,193 553.01,189.44 553.06,189.62 553.11,188.37 553.16,188.81 553.21,190.48 553.26,195.55 553.31,192.82 553.36,196.55 553.42,194.36 553.47,196.02 553.52,195.76 553.57,197.55 553.62,198.08 553.67,194.83 553.73,193.58 553.78,194.64 553.84,196.05 553.89,193.58 553.95,194.93 554,199.2 554.06,194.91 554.12,197.96 554.17,197.97 554.23,193.52 554.28,192.16 554.34,191.36 554.39,190.15 554.45,189.5 554.5,190 555,189.43 555.5,189.3 555.53,191.13 555.56,192.01 555.59,193.28 555.62,191.56 555.65,191.98 555.68,191.64 555.71,189.63 555.74,192.4 555.77,196.11 555.8,194.83 555.83,189.86 555.86,192.26 555.89,193.42 555.92,198.42 555.95,192.92 555.98,195.6 556.01,198.49 556.04,197.39 556.07,198.98 556.1,198.69 556.13,198.52 556.16,199.36 556.19,199.75 556.22,201.22 556.25,201.88 556.39,202.95 556.52,201.66 556.66,200.76 556.79,202.11 556.93,204.24 557.07,204.99 557.2,206.29 557.34,208.62 557.47,208.62 557.61,208.62 557.74,208.62 557.88,207.5 557.95,207.88 558.01,208.92 558.08,208.5 558.15,208 558.21,209.87 558.28,210.66 558.35,212.09 558.41,210.8 558.48,213.23 558.55,215.58 558.61,215.42 558.68,214.81 558.75,212.69 558.82,213.7 558.88,211.53 558.95,211.2 559.02,214.66 559.08,214.71 559.15,217.58 559.22,218.62 559.28,216.5 559.35,215.78 559.42,213.55 559.48,216.94 559.55,219.32 559.62,221.46 559.68,220.68 559.75,221.2 559.79,221.55 559.82,220.01 559.86,220.19 559.89,217.33 559.93,219.06 559.96,221.48 560,217.72 560.04,213.55 560.07,218.28 560.11,214.77 560.14,215.09 560.18,214.33 560.21,214.23 560.25,211.57 560.29,209.58 560.32,214.83 560.36,214.08 560.39,208.59 560.43,212.51 560.46,211.23 560.5,212.37 560.54,211.18 560.57,213.01 560.61,209.44 560.64,209.79 560.68,209.92 560.71,208.94 560.75,209.54 560.79,208.89 560.82,207.28 560.86,207.61 560.89,207.84 560.93,205.14 560.96,204.35 561,203.75 561.31,204.6 561.62,201.44 561.94,200.88 562.25,202 562.36,200.88 562.48,200.88 562.59,200.88 562.7,200.88 562.82,200.88 562.93,202 563.05,207.72 563.16,208.62 563.27,208.16 563.39,208.09 563.5,207.5 563.54,208.91 563.57,208.86 563.61,210.43 563.64,210.67 563.68,210.04 563.71,207.2 563.75,208.67 563.79,209.76 563.82,209.97 563.86,207.7 563.89,213.57 563.93,215.27 563.96,215.82 564,209.94 564.04,210.12 564.07,212.83 564.11,212.88 564.14,215.6 564.18,211.36 564.21,212.24 564.25,218.79 564.29,221.47 564.32,222.41 564.36,222.74 564.39,222.01 564.43,223.38 564.46,224.92 564.5,222.73 564.54,221.67 564.57,219.65 564.61,222.12 564.64,223.27 564.68,224.62 564.71,225.3 564.75,224.95 564.79,224.3 564.83,224.26 564.88,223.46 564.92,223.65 564.96,224.59 565,225.08 565.04,225.98 565.08,223.08 565.12,221.4 565.17,221.56 565.21,220.43 565.25,219.04 565.29,211.37 565.33,210.05 565.38,209.47 565.42,208.97 565.46,210.85 565.5,208.88 565.54,213.78 565.58,217.65 565.62,213.8 565.67,214.93 565.71,212.14 565.75,212.75 565.79,212.3 565.83,212.71 565.88,211.69 565.92,211.61 565.96,211.28 566,210 566.17,211.12 566.34,208.89 566.51,205.39 566.68,205.22 566.85,203.88 567.03,204.52 567.2,205.17 567.37,208.17 567.54,203.88 567.71,205.47 567.88,205 567.95,205.12 568.03,205.46 568.1,203.42 568.18,203.69 568.25,204.22 568.33,201.56 568.4,201.58 568.48,200.44 568.55,197.99 568.63,192.9 568.7,192.92 568.78,194.23 568.85,196.05 568.93,194.49 569,199.83 569.08,197.52 569.15,199.43 569.23,199.5 569.3,196.88 569.38,194.54 569.45,194.34 569.53,194.68 569.6,192.37 569.68,191.9 569.75,192.5 569.83,190.36 569.91,191.92 569.99,190.38 570.08,188.96 570.16,186.9 570.24,190.39 570.32,190.64 570.4,189.07 570.48,183.62 570.56,186.83 570.64,185.09 570.73,180.33 570.81,183.62 570.89,190.44 570.97,185.68 571.05,184.26 571.13,186.32 571.21,188 571.29,185.42 571.38,182.97 571.46,182.3 571.54,181.79 571.62,181.3 571.74,183.16 571.86,183.6 571.97,182.73 572.09,183.35 572.21,184.72 572.33,186.17 572.44,186.81 572.56,186.39 572.68,184.22 572.79,185.96 572.91,187.05 573.03,186.54 573.15,186.1 573.26,185.42 573.38,185.99 573.5,189.32 573.66,186.6 573.81,182.96 573.97,182.63 574.13,182.63 574.28,182.63 574.44,182.63 574.6,182.63 574.75,182.63 574.91,182.63 575.07,182.63 575.22,182.63 575.38,183.75 575.46,181.32 575.54,180.4 575.62,183.33 575.71,182.76 575.79,182.5 575.87,182.21 575.95,184.36 576.03,184.87 576.11,179.74 576.19,184.87 576.27,184.42 576.36,184.87 576.44,183.15 576.52,181.09 576.6,182.37 576.68,179.15 576.76,178.21 576.84,176.85 576.92,176.41 577.01,176.58 577.09,176.56 577.17,173.97 577.25,172.5 577.25,173.62 577.25,171.25 577.72,171.14 578.18,169.92 578.65,169.72 579.12,170 579.18,169.48 579.23,170.79 579.29,169.61 579.35,171.12 579.41,171.12 579.46,167.28 579.52,163.26 579.58,163.67 579.64,163.26 579.69,163.26 579.75,164.38 579.89,161.18 580.03,160.81 580.17,160.63 580.31,161.69 580.44,162.94 580.58,158.88 580.72,161.59 580.86,160.76 581,160 581.03,160.22 581.07,160.22 581.1,161.12 581.13,159.12 581.17,157.11 581.2,160.3 581.23,161.12 581.27,159.04 581.3,161.12 581.33,157.94 581.37,156.39 581.4,157.21 581.43,149.85 581.47,150.43 581.5,151.75 581.53,150.36 581.57,155.49 581.6,154.18 581.63,154.19 581.67,154.59 581.7,153.33 581.73,154.08 581.77,150.71 581.8,148.82 581.83,146.92 581.87,148.26 581.9,147.33 581.93,146.72 581.97,146.61 582,145 582.01,144.37 582.02,144.28 582.04,145.77 582.05,142.66 582.06,143.83 582.08,146.01 582.09,146.12 582.1,142.16 582.11,135.69 582.12,139.83 582.14,138.73 582.15,136.32 582.16,139.11 582.17,145.06 582.19,141.92 582.2,138.66 582.21,137.1 582.23,136.75 582.24,136.26 582.25,135 582.56,135.47 582.87,134.95 583.18,135.82 583.5,134.42 583.81,133.32 584.12,132.5 584.53,133.01 584.93,132.96 585.34,132.15 585.75,131.18 585.77,131.51 585.79,133.34 585.81,135.99 585.83,137.46 585.85,139.87 585.87,140.37 585.89,142.71 585.91,140.17 585.93,137.36 585.95,133.11 585.97,132.36 585.99,133.08 586.01,134.25 586.03,134.45 586.05,135.84 586.07,137.3 586.09,143.55 586.11,144.87 586.13,144.06 586.15,144.87 586.17,144.87 586.19,144.87 586.21,144.87 586.23,144.87 586.25,143.75 586.29,146.69 586.32,148.21 586.36,147.9 586.39,148.01 586.43,148.51 586.46,147.73 586.5,152.31 586.54,152.13 586.57,153.01 586.61,154.52 586.64,150.9 586.68,148.34 586.71,146.49 586.75,149.83 586.79,148.73 586.82,148.22 586.86,152.23 586.89,150.13 586.93,153.66 586.96,155.42 587,155.85 587.04,158.62 587.07,157.9 587.11,155.38 587.14,158.39 587.18,157.85 587.21,158.05 587.25,157.5 587.72,158.19 588.18,157.29 588.65,158.01 589.12,157.5 589.16,157.82 589.19,158.95 589.23,158.86 589.26,162.05 589.3,160.04 589.33,157.63 589.37,158.86 589.4,160.5 589.44,156.5 589.47,156.38 589.51,156.38 589.54,156.38 589.58,156.61 589.61,157.16 589.65,162.66 589.68,166.13 589.72,170.13 589.75,166.06 589.79,166.98 589.82,167.28 589.86,171.12 589.89,167.34 589.93,167.65 589.96,169.52 590,170 590.08,170.78 590.15,170.39 590.23,173.74 590.31,171.28 590.38,170.38 590.46,168.88 590.54,172.69 590.62,177.37 590.69,177.37 590.77,177.37 590.85,174.75 590.92,175.95 591,176.25 591.08,177.98 591.15,177.57 591.23,181.07 591.31,181.07 591.39,180.66 591.47,180.72 591.54,180.26 591.62,179.95 591.64,178.47 591.66,176.47 591.68,177.1 591.71,176.58 591.73,175.84 591.75,176.61 591.77,176.84 591.79,176.62 591.81,177.01 591.83,175.02 591.85,173.96 591.88,175.28 591.9,174.89 591.92,174.03 591.94,176.58 591.96,174.55 591.98,174.15 592,172 592.03,167.55 592.05,171.58 592.07,166.78 592.09,162.44 592.11,163.21 592.13,162.98 592.15,162.14 592.18,167.61 592.2,165.99 592.22,165.96 592.24,162.15 592.26,162.77 592.28,166.83 592.3,164.54 592.32,163.51 592.35,161.92 592.37,162.19 592.39,155.74 592.41,154.44 592.43,154.43 592.45,159.24 592.47,158.34 592.5,158.92 592.52,156.37 592.54,158.19 592.56,157.02 592.58,158.15 592.6,156.74 592.62,156.7 592.65,158.84 592.67,156.44 592.69,155.08 592.71,152.5 592.73,153.85 592.75,153.59 592.77,154.1 592.79,153.62 592.82,153.04 592.84,151.59 592.86,151.17 592.88,150.62 593.29,151.74 593.71,151.74 594.12,150.19 594.13,151.24 594.14,151.58 594.15,152.23 594.16,151.58 594.17,154.99 594.19,155.67 594.2,156.37 594.21,155.1 594.22,151.85 594.23,150.21 594.24,153.47 594.25,155 594.26,155.57 594.27,153.76 594.28,153.42 594.29,155.93 594.3,152.22 594.32,158.2 594.33,162.77 594.34,161.43 594.35,162.08 594.36,159.7 594.37,163.13 594.38,167.24 594.39,168.62 594.4,168.62 594.41,168.62 594.42,168.62 594.43,168.62 594.45,168.62 594.46,163.52 594.47,164.61 594.48,163.34 594.49,165.65 594.5,167.5 594.57,166.38 594.64,166.38 594.71,166.38 594.78,166.59 594.85,167.01 594.92,166.38 594.99,169.74 595.06,172.33 595.12,177.37 595.19,172.7 595.26,174.49 595.33,175.24 595.4,175.95 595.47,176.82 595.54,176.6 595.61,177.37 595.68,177.37 595.75,176.25 595.76,177.85 595.78,178.94 595.79,179.3 595.8,178.58 595.82,179.62 595.83,182.01 595.84,180.74 595.86,181.29 595.87,177.67 595.88,178.85 595.89,180.83 595.91,181.92 595.92,183.12 595.93,187.98 595.95,185.9 595.96,184.61 595.97,182.81 595.99,179.84 596,181.52 596.01,186.94 596.03,183.42 596.04,181.01 596.05,181.2 596.07,185.29 596.08,185.72 596.09,189.67 596.11,184.98 596.12,191.12 596.13,195.38 596.14,194.93 596.16,192.85 596.17,192.55 596.18,193.38 596.2,193.21 596.21,193.66 596.22,194.18 596.24,194.36 596.25,195 596.25,195.5 596.26,196 596.26,196.5 596.27,197 596.27,197.5 596.27,198 596.28,198.5 596.28,199 596.29,199.5 596.29,200 596.3,200.5 596.3,201 596.3,201.5 596.31,202 596.31,202.5 596.32,203 596.32,203.5 596.33,204 596.33,204.5 596.33,205 596.34,205.5 596.34,206 596.35,206.5 596.35,207 596.35,207.5 596.36,208 596.36,208.5 596.37,209 596.37,209.5 596.38,210 596.38,210.5 596.38,211 596.39,211.5 596.39,212 596.4,212.5 596.4,213 596.4,213.5 596.41,214 596.41,214.5 596.42,215 596.42,215.5 596.42,216 596.43,216.5 596.43,217 596.44,217.5 596.44,218 596.45,218.5 596.45,219 596.45,219.5 596.46,220 596.46,220.5 596.47,221 596.47,221.5 596.48,222 596.48,222.5 596.48,223 596.49,223.5 596.49,224 596.5,224.5 596.5,225 596.5,225.5 596.5,226 596.5,226.5 596.5,227 596.5,227.49 596.5,227.99 596.5,228.49 596.5,228.99 596.5,229.49 596.5,229.99 596.5,230.49 596.5,230.99 596.5,231.49 596.5,231.98 596.5,232.48 596.5,232.98 596.5,233.48 596.5,233.98 596.5,234.48 596.5,234.98 596.5,235.48 596.5,235.98 596.5,236.47 596.5,236.97 596.5,237.47 596.5,237.97 596.5,238.47 596.5,238.97 596.5,239.47 596.5,239.97 596.5,240.47 596.5,240.96 596.5,241.46 596.5,241.96 596.5,242.46 596.5,242.96 596.5,243.46 596.5,243.96 596.5,244.46 596.5,244.96 596.5,245.45 596.5,245.95 596.5,246.45 596.5,246.95 596.5,247.45 596.5,247.95 596.5,248.45 596.5,248.95 596.5,249.45 596.5,249.95 596.5,250.44 596.5,250.94 596.5,251.44 596.5,251.94 596.5,252.44 596.5,252.94 596.5,253.44 596.5,253.94 596.5,254.44 596.5,254.93 596.5,255.43 596.5,255.93 596.5,256.43 596.5,256.93 596.5,257.43 596.5,257.93 596.5,258.43 596.5,258.93 596.5,259.42 596.5,259.92 596.5,260.42 596.5,260.92 596.5,261.42 596.5,261.92 596.5,262.42 596.5,262.92 596.5,263.42 596.5,263.91 596.5,264.41 596.5,264.91 596.5,265.41 596.5,265.91 596.5,266.41 596.5,266.91 596.5,267.41 596.5,267.91 596.5,268.4 596.5,268.9 596.5,269.4 596.5,269.9 596.5,270.4 596.5,270.9 596.5,271.4 596.5,271.9 596.5,272.4 596.5,272.89 596.5,273.39 596.5,273.89 596.5,274.39 596.5,274.89 596.5,275.39 596.5,275.89 596.5,276.39 596.5,276.89 596.5,277.38 596.5,277.88 596.5,278.38 596.5,278.88 596.5,279.38 596.5,279.88 596.5,280.38 596.5,280.88 596.5,281.38 596.5,281.87 596.5,282.37 596.5,282.87 596.5,283.37 596.5,283.87 596.5,284.37 596.5,284.87 596.5,285.37 596.5,285.87 596.5,286.37 596.5,286.86 596.5,287.36 596.5,287.86 596.5,288.36 596.5,288.86 596.5,289.36 596.5,289.86 596.5,290.36 596.5,290.86 596.5,291.35 596.5,291.85 596.5,292.35 596.5,292.85 596.5,293.35 596.5,293.85 596.5,294.35 596.5,294.85 596.5,295.35 596.5,295.84 596.5,296.34 596.5,296.84 596.5,297.34 596.5,297.84 596.5,298.34 596.5,298.84 596.5,299.34 596.5,299.84 596.5,300.33 596.5,300.83 596.5,301.33 596.5,301.83 596.5,302.33 596.5,302.83 596.5,303.33 596.5,303.83 596.5,304.33 596.5,304.82 596.5,305.32 596.5,305.82 596.5,306.32 596.5,306.82 596.54,308.03 596.58,308.89 596.62,308.91 596.67,308.92 596.71,307.31 596.75,306.39 596.79,302.52 596.83,301.88 596.87,300.47 596.91,297.23 596.95,301.63 597,297.2 597.04,299.7 597.08,298.74 597.12,299.42 597.18,299.32 597.23,302.78 597.29,300.4 597.35,297.27 597.41,297.29 597.46,297.32 597.52,297.35 597.58,297.37 597.64,297.4 597.69,301.42 597.75,304.95 597.77,303.41 597.79,301.7 597.81,299.3 597.82,303.36 597.84,303.06 597.86,302.31 597.88,303.29 597.9,303.74 597.92,294.34 597.94,299.03 597.95,302.45 597.97,307.12 597.99,304.45 598.01,307.15 598.03,301.74 598.05,304.92 598.07,300.83 598.08,306.41 598.1,307.23 598.12,295.32 598.14,293.35 598.16,300.31 598.18,291.64 598.19,285.82 598.21,288.38 598.23,287.75 598.25,300.34 598.27,302.2 598.29,294.76 598.31,292.45 598.32,290.04 598.34,287.06 598.36,285.87 598.38,288.18 598.41,288.16 598.45,289.04 598.48,288.69 598.51,289.72 598.55,285.87 598.58,285.8 598.62,285.82 598.65,288.68 598.68,292.65 598.72,285.89 598.75,285.92 598.78,285.94 598.82,287.51 598.85,290.91 598.88,289.11 598.92,290.22 598.95,294.43 598.99,298.13 599.02,301.13 599.05,301.38 599.09,300.12 599.12,299.32 599.16,298.81 599.2,300.61 599.24,301.38 599.28,301.39 599.32,301.4 599.36,301.42 599.4,298.29 599.44,300.16 599.48,298.73 599.52,301.47 599.56,294.2 599.6,295.75 599.64,294.02 599.68,293.08 599.72,293.6 599.76,293.64 599.8,290.62 599.84,291.39 599.88,290.05 599.92,292.19 599.95,289.35 599.99,287.86 600.02,287.88 600.06,287.9 600.1,287.92 600.13,287.94 600.17,290.36 600.21,289.45 600.24,288 600.28,289.52 600.32,299.87 600.35,303.81 600.39,300.5 600.42,295.32 600.46,301.61 600.5,299.4 600.53,300.19 600.57,300.58 600.61,303.22 600.64,299.55 600.68,298.2 600.71,300.4 600.75,301.82 600.81,299.68 600.87,298.07 600.94,297.37 601,298.17 601.06,295.62 601.12,303.05 601.18,295.77 601.25,303.34 601.31,301.76 601.37,293.18 601.43,293.17 601.5,294.99 601.56,293.15 601.62,295.05 601.68,294.81 601.75,296.01 601.81,296.64 601.87,297.46 601.93,293.25 602,295.45 602.06,299.71 602.12,300.24 602.18,297.36 602.25,300.19 602.31,303.08 602.37,301.44 602.43,304.72 602.5,304.4 602.56,302.55 602.62,303.08 602.69,302.59 602.76,304.68 602.83,304.32 602.91,304.7 602.98,301.81 603.05,300.17 603.12,301.25 603.19,304.68 603.26,294.33 603.33,294.32 603.41,297.33 603.48,294.3 603.55,294.29 603.62,296 604,297.19 604.37,296.38 604.75,296.88 604.81,297.3 604.87,297.42 604.93,298.89 604.99,300.81 605.05,304.24 605.11,300.19 605.17,304.6 605.23,306.04 605.29,302.54 605.34,301.51 605.4,300.24 605.46,300.9 605.52,306.32 605.58,301.39 605.64,304.52 605.7,305.11 605.76,305.67 605.82,305.98 605.88,306.25 606.04,305.41 606.2,310.23 606.36,310.56 606.52,310.54 606.68,309.99 606.84,308.99 607,309.32 607.06,310.5 607.12,310.51 607.18,310.52 607.23,310.53 607.29,307.09 607.35,302.25 607.41,302.77 607.47,302.49 607.53,301.68 607.59,302.64 607.65,302.56 607.7,302.62 607.76,303.37 607.82,300.9 607.88,301.88 607.98,297.43 608.09,301.74 608.19,303.22 608.29,302.02 608.4,301.02 608.5,298.75 608.69,300.11 608.88,299.01 609.06,300.12 609.25,296.11 609.44,295.15 609.63,296.39 609.82,298.87 610,298.22 610.19,294.87 610.38,294.12 610.85,294.47 611.32,294.89 611.78,292.8 612.25,294.62 612.41,293.14 612.56,290.28 612.72,292.09 612.87,287.9 613.03,294.45 613.18,295.97 613.34,295.97 613.5,295.98 613.65,294.07 613.81,290.99 613.96,290.97 614.12,288.8 614.2,289.1 614.28,290.76 614.37,290 614.45,289.26 614.53,288.18 614.61,291.42 614.69,289.27 614.77,288.92 614.86,296.05 614.94,295.38 615.02,293.84 615.1,299.52 615.18,299.45 615.26,296.34 615.35,290.35 615.43,292.94 615.51,293.98 615.59,294.13 615.67,298.99 615.75,299.87 615.84,300.57 615.92,299.99 616,299.95 616.27,299.57 616.54,298.99 616.81,301.06 617.07,297.4 617.34,295.86 617.61,295.76 617.88,296.88 618.11,293.62 618.35,292.41 618.58,295.56 618.82,296.92 619.05,292.1 619.28,292.1 619.52,292.09 619.75,293.25 620.22,293.67 620.68,294.73 621.15,292.21 621.62,294.25 621.74,290.95 621.86,289.78 621.97,287.05 622.09,290.22 622.21,286.52 622.33,285.09 622.44,285.08 622.56,285.07 622.68,285.06 622.79,288.01 622.91,286.63 623.03,285.04 623.15,285.03 623.26,285.03 623.38,286.99 623.5,286.25 623.81,287.2 624.12,287.48 624.44,287.48 624.75,285.07 625.06,286.11 625.38,282.9 625.69,281.9 626,283.12 626.45,281.51 626.89,280.85 627.34,281.9 627.78,280.6 628.23,280.18 628.67,280.18 629.12,281.37 629.22,280.18 629.33,281.75 629.43,280.18 629.54,280.18 629.64,280.19 629.75,283.03 629.85,288.22 629.96,282.16 630.06,281.44 630.16,287.56 630.27,286.22 630.37,284.61 630.48,286.6 630.58,287.89 630.69,288.47 630.79,291.13 630.9,288.59 631,290 631.47,288.95 631.94,288.9 632.41,289.51 632.88,290.88 633,290.48 633.11,291.49 633.23,291.06 633.35,289.6 633.46,290.25 633.58,287.73 633.7,289.75 633.82,289.22 633.93,287.27 634.05,284.5 634.17,287.02 634.28,286.51 634.4,285.11 634.52,284.13 634.63,284.14 634.75,283.18 634.84,285.69 634.93,282.84 635.02,282.02 635.11,282.27 635.2,282.02 635.29,285.8 635.38,284.61 635.46,283.55 635.55,283.72 635.64,282.66 635.73,286.18 635.82,288.45 635.91,290.06 636,290.25 636.47,288.66 636.94,289.31 637.41,289.24 637.88,289.75 638.11,288.67 638.33,289.29 638.56,289.3 638.79,289.99 639.02,291.87 639.24,293.81 639.47,294.84 639.7,294.15 639.93,295.4 640.15,295.4 640.38,294.38 640.74,295.45 641.09,295.72 641.45,297.99 641.81,297.63 642.17,296.26 642.52,296.95 642.88,297 642.98,296.56 643.08,297.21 643.18,296.24 643.27,297.86 643.37,298 643.47,296.81 643.57,298.02 643.67,295.08 643.77,292.28 643.86,289.21 643.96,289.83 644.06,293.14 644.16,286.43 644.26,286.96 644.36,287.86 644.45,289.21 644.55,291.54 644.65,289.04 644.75,287.5 644.91,288.62 645.06,288.63 645.22,288.63 645.37,286.18 645.53,284.64 645.68,284.45 645.84,284.19 646,283.62 646.15,281.97 646.31,285.18 646.46,284.19 646.62,281.88 647.01,281.26 647.4,282.41 647.79,283.01 648.18,282.98 648.58,283.01 648.97,280.97 649.36,280.43 649.75,279.5 650.17,279.27 650.58,278.91 651,278.9 651.42,279.49 651.83,279.63 652.25,281.25 652.61,280.12 652.96,280.12 653.32,280.12 653.68,280.12 654.04,280.96 654.39,282.43 654.75,283.38 655.25,283.86 655.75,283.15 656.25,283.94 656.75,282.51 657.25,282.88 657.42,283.55 657.58,284.5 657.75,285.24 657.92,286.89 658.08,287.26 658.25,289.61 658.42,286.75 658.58,289.29 658.75,285.02 658.92,286.1 659.08,284.43 659.25,288.35 659.42,288.83 659.58,289.52 659.75,290 660.02,291.55 660.28,292.48 660.55,290.81 660.82,293.31 661.09,291.59 661.35,292.43 661.62,292.81 662.02,292.29 662.41,292.17 662.81,291.85 663.21,293.19 663.6,292.59 664,290.62 664.38,291.68 664.75,290 665.03,290.51 665.31,291.08 665.58,291.08 665.86,291.09 666.14,289.43 666.42,289.8 666.69,286.86 666.97,285.57 667.25,286.25 667.67,284.57 668.08,284.71 668.5,284.97 668.92,283.88 669.33,283.88 669.75,285 669.94,283.87 670.13,283.8 670.33,286.12 670.52,285.34 670.71,284.77 670.9,282.98 671.1,277.63 671.29,278.6 671.48,278.03 671.67,277.63 671.87,277.63 672.06,277.63 672.25,278.75 672.56,277.06 672.88,276.45 673.19,275.59 673.5,275.07 673.81,276.06 674.12,275.88 674.44,277.53 674.75,275.68 675.02,279.24 675.28,279.87 675.55,277.31 675.82,277.65 676.09,274.56 676.35,278.55 676.62,278.75 676.86,279.94 677.09,278.39 677.33,281.83 677.56,283.62 677.79,283.62 678.03,283.62 678.26,283.36 678.5,282.5 678.67,281.68 678.84,281.73 679.01,284.16 679.18,283.53 679.35,281.38 679.53,284.38 679.7,284.16 679.87,281.38 680.04,287.35 680.21,287.36 680.38,287.45 680.66,283.99 680.94,284.29 681.21,282.63 681.49,284.34 681.77,285.13 682.05,285.54 682.32,282.63 682.6,283.84 682.88,283.75 683.13,283.09 683.38,282.3 683.63,284.12 683.88,282.04 684.13,278.73 684.38,279.9 684.63,284.35 684.88,281.74 685.13,280.94 685.38,279.57 685.9,280.19 686.42,280.93 686.94,280.51 687.46,280.93 687.98,280.66 688.5,279.81 688.85,280.03 689.19,279.97 689.54,280.93 689.89,279.54 690.23,277.61 690.58,280.21 690.93,278 691.27,278.23 691.62,276.88 691.78,276.89 691.93,276.73 692.09,278 692.25,277.78 692.41,277.54 692.57,273.88 692.72,276.19 692.88,273.12 693.07,274.24 693.25,274.24 693.44,273.7 693.63,274.24 693.82,273.37 694,274.24 694.19,274.24 694.38,274.24 694.56,274.24 694.75,268.75 694.85,269.28 694.94,266.8 695.04,263.57 695.13,264.64 695.23,268.13 695.33,267.12 695.42,265.35 695.52,265.02 695.62,269.87 695.71,267.6 695.81,263.27 695.9,265.22 696,262.5 696.38,261.5 696.75,262.13 697.13,260.06 697.5,260.53 697.88,261.18 698.11,260.94 698.35,262.26 698.58,261.94 698.82,264.58 699.05,266.12 699.28,265.72 699.52,263.24 699.75,265 699.95,265.27 700.16,267.97 700.36,266.67 700.57,264.71 700.77,268.29 700.98,267.09 701.18,267.93 701.39,269.46 701.59,268.48 701.8,271.07 702,269.95 702.19,271.07 702.39,271.07 702.58,271.07 702.77,269.93 702.96,265.43 703.16,267.44 703.35,270.78 703.54,268.51 703.73,265.58 703.93,263.88 704.12,265 704.43,264.77 704.75,263.4 705.06,262.95 705.37,261.83 705.69,263.13 706,262.82 706.1,262.87 706.21,266.95 706.31,267.81 706.42,267.74 706.52,267.06 706.62,266.41 706.73,264.6 706.83,269.56 706.94,269.56 707.04,269.56 707.15,269.56 707.25,268.44 707.61,269.02 707.96,269.56 708.32,269.56 708.68,269.19 709.04,267.34 709.39,266.61 709.75,266.25 709.91,267.04 710.06,266.71 710.22,265.91 710.38,265.69 710.53,267.37 710.69,267.22 710.84,267.37 711,267.37 711.16,267.37 711.31,263.85 711.47,264.53 711.62,265.02 711.78,261.29 711.94,263.29 712.09,259.47 712.25,258.75 712.36,256.8 712.46,257.59 712.57,258.38 712.68,256.35 712.79,259.52 712.89,256.47 713,255.99 713.11,256.66 713.21,254.39 713.32,256.16 713.43,255.6 713.54,256.69 713.64,253.91 713.75,251.88 714.25,251.96 714.75,251.79 715.25,250.66 715.75,251.44 716,253.69 716.25,253.17 716.5,255 716.75,255 717,255 717.25,253.88 717.32,254.84 717.38,254.58 717.45,253.77 717.52,253.55 717.58,253.45 717.65,254.31 717.72,255 717.78,254.83 717.85,250.4 717.92,249.02 717.98,246.3 718.05,249.43 718.12,249.75 718.18,249.84 718.25,248.95 718.32,247.96 718.39,247.77 718.45,242.86 718.52,245.74 718.59,242.01 718.65,242.53 718.72,243.68 718.79,243.78 718.85,241.96 718.92,239.53 718.99,240.61 719.05,239.21 719.12,240 719.43,240.32 719.75,237.64 720.06,236.38 720.37,236.38 720.69,236.38 721,237.5 721.36,236.18 721.71,235.72 722.07,235.31 722.43,236.73 722.79,236 723.14,236.19 723.5,235 723.88,236.12 724.25,235.39 724.63,236.12 725,235.68 725.38,233.12 725.85,232.48 726.32,231.57 726.78,232.79 727.25,232.69 727.34,232.21 727.43,232.39 727.51,231.57 727.6,231.65 727.69,234.26 727.78,234.97 727.87,233.82 727.96,233.14 728.04,231.57 728.13,233.83 728.22,235.21 728.31,235.53 728.4,238.63 728.49,240.23 728.57,238.63 728.66,239.48 728.75,241.2 728.85,240.52 728.95,239.72 729.05,240.54 729.15,242.32 729.25,239.5 729.35,237.61 729.45,233.87 729.55,232.34 729.65,233.68 729.75,234.48 729.85,233.97 729.95,234.48 730.05,231.13 730.15,232.52 730.25,233.99 730.35,236.06 730.45,234.8 730.55,232.67 730.65,232.59 730.75,231.25 730.94,232.37 731.12,231.78 731.31,232.28 731.5,232.37 731.69,232.37 731.88,231.96 732.06,226.38 732.25,227.5 732.31,225.81 732.38,225.77 732.44,228.51 732.5,228.62 732.57,222.58 732.63,224.17 732.69,226.33 732.75,221.38 732.82,223.03 732.88,222.5 732.98,222.56 733.09,222.71 733.19,222.81 733.3,221.9 733.4,219.84 733.5,221.82 733.61,219.71 733.71,213.04 733.82,212.63 733.92,214.55 734.02,212.78 734.13,214.5 734.23,215.96 734.33,214.85 734.44,212.63 734.54,215.31 734.65,215.07 734.75,213.75 734.91,212.08 735.06,210.21 735.22,212.95 735.37,210.88 735.53,208.1 735.68,207.16 735.84,207.06 736,208.72 736.15,209.54 736.31,207.06 736.46,207.06 736.62,208.18 736.74,207.06 736.86,207.39 736.97,211.7 737.09,215.72 737.21,216.2 737.33,210.51 737.44,211.25 737.56,207.47 737.68,207.06 737.79,213.77 737.91,215.74 738.03,212.81 738.15,212.03 738.26,215.59 738.38,216.97 738.5,216.2 738.58,216.07 738.66,216.79 738.74,215.78 738.81,217.32 738.89,214.38 738.97,214.1 739.05,212.75 739.13,211.9 739.21,215.4 739.28,214.07 739.36,214.14 739.44,210.09 739.52,208.95 739.6,203.26 739.67,203.26 739.75,203.98 739.83,203.26 739.91,206.27 739.99,204.4 740.07,204.04 740.14,206.02 740.22,204.72 740.3,204.04 740.38,204.38 740.69,203.37 741,201.23 741.32,203.56 741.63,204.61 741.94,202.41 742.25,202.19 742.32,202.98 742.4,205.99 742.47,206.42 742.55,209.4 742.62,209.55 742.7,208.98 742.77,208.59 742.85,209.84 742.92,205.56 743,205.12 743.07,207.77 743.15,210.22 743.22,209.06 743.3,208.58 743.37,206.1 743.45,211.03 743.52,212.26 743.6,214.08 743.67,214.62 743.75,214.39 743.82,211.79 743.9,211.99 743.97,212.81 744.05,214.29 744.12,214.44 744.54,214.31 744.95,213.73 745.37,215.56 745.79,214.53 746.2,213.93 746.62,213.12 746.7,210.8 746.78,209.19 746.86,210.27 746.93,209.67 747.01,206.06 747.09,207.23 747.17,207.83 747.25,204.94 747.33,204.66 747.41,208.26 747.49,206.83 747.57,206.61 747.64,210.1 747.72,205.82 747.8,203.88 747.88,205 747.97,203.75 748.07,201.37 748.16,200.68 748.25,203.51 748.35,203.64 748.44,200.01 748.53,198.06 748.63,198.42 748.72,196.48 748.82,196.06 748.91,196.98 749,198.62 749.1,196.45 749.19,195.98 749.28,193.95 749.38,195.54 749.47,196.26 749.56,195.72 749.66,195.22 749.75,195.05 749.81,194.4 749.88,195.58 749.94,198.26 750,198.72 750.06,200.06 750.12,196.61 750.19,194.42 750.25,197.98 750.31,200.3 750.38,196.61 750.44,194.97 750.5,195.45 750.56,197.48 750.62,205.55 750.69,204.41 750.75,201.53 750.81,202.79 750.88,202.27 750.94,204.91 751,205 751.02,205.41 751.04,205.32 751.07,205.46 751.09,206.2 751.11,207.06 751.13,208.23 751.16,209.42 751.18,208.08 751.2,207.31 751.22,208.05 751.24,208.66 751.27,209.16 751.29,208.67 751.31,210 751.33,213.23 751.36,209.01 751.38,212.44 751.4,212.94 751.42,215.14 751.44,214.6 751.47,215.12 751.49,219.06 751.51,219.37 751.53,219.14 751.56,218.49 751.58,215.81 751.6,216.4 751.62,222.01 751.64,225.54 751.67,221.98 751.69,223.22 751.71,222.6 751.73,222.24 751.76,219.77 751.78,221.95 751.8,225.23 751.82,223.57 751.84,222.95 751.87,222.99 751.89,224.04 751.91,226.04 751.93,225.82 751.96,226.11 751.98,226.54 752,227.45 752.15,226.03 752.3,227.68 752.45,228.57 752.6,226.98 752.75,226.08 752.9,227.89 753.05,228.26 753.2,224.56 753.35,221.78 753.5,222.55 753.64,224.18 753.79,224.89 753.93,221.43 754.08,221.43 754.22,221.43 754.37,221.43 754.51,221.43 754.66,221.73 754.8,221.52 754.95,227.35 755.09,227.18 755.24,227.15 755.38,228.7 755.52,229.36 755.67,229.2 755.81,227.15 755.96,226.55 756.1,226.61 756.24,225.57 756.39,223.32 756.53,221.38 756.67,226.78 756.82,225.05 756.96,223.35 757.11,221.38 757.25,222.5 757.61,219.44 757.96,219.42 758.32,219.32 758.68,218.88 759.04,218.88 759.39,220.07 759.75,220 759.81,219.44 759.88,217.86 759.94,218.75 760,218.55 760.06,217.14 760.12,217.97 760.19,216.32 760.25,213.95 760.31,214.75 760.38,209.83 760.44,209.19 760.5,209.52 760.56,210.81 760.62,209.22 760.69,214.19 760.75,211.6 760.81,210.54 760.88,207 760.94,208.96 761,207 761.06,208.46 761.12,208.81 761.19,209.22 761.25,208.12 761.67,207.25 762.08,206.48 762.5,205.8 762.92,206.67 763.33,207.53 763.75,206.81 763.82,205.97 763.9,207.17 763.97,207.97 764.05,210.11 764.12,212.14 764.19,209.81 764.27,211.62 764.34,211.94 764.42,214.44 764.49,209.28 764.57,207.77 764.64,206.62 764.71,211.74 764.79,212.19 764.86,212.1 764.94,209.19 765.01,207.66 765.08,208.9 765.16,212.94 765.23,214.8 765.31,216.81 765.38,217.45 765.44,217.47 765.5,216.59 765.56,216.58 765.62,215.42 765.67,213.69 765.73,215.06 765.79,211.1 765.85,210.57 765.91,207.94 765.97,211.28 766.03,210.61 766.09,208.73 766.15,213.11 766.21,208.8 766.26,207.49 766.32,207.77 766.38,211.03 766.44,205.87 766.5,208.89 766.56,203.63 766.62,202.67 766.68,202.15 766.74,200.97 766.79,201.18 766.85,206.33 766.91,204.22 766.97,205.23 767.03,201.89 767.09,204.1 767.15,202.8 767.21,202.98 767.27,203.03 767.33,198.48 767.38,197.68 767.44,197.68 767.5,197.68 767.56,198.1 767.62,198.8 767.68,198.94 767.74,199.8 767.8,201.13 767.86,201.29 767.92,203.08 767.98,205.9 768.04,207.88 768.1,206.61 768.16,205.58 768.22,205.96 768.28,205 768.34,207.14 768.4,206.12 768.46,208.14 768.52,208 768.58,207.19 768.64,209.82 768.7,208.5 768.76,208.8 768.82,208.65 768.88,208.56 768.94,209.04 769,210.43 769.06,210.17 769.12,211.25 769.19,211.65 769.25,213.41 769.32,212.44 769.38,212.3 769.45,213.97 769.51,214.12 769.58,210.13 769.64,210.13 769.71,210.13 769.77,212.3 769.84,215.05 769.9,211.46 769.97,214.88 770.03,216.26 770.1,217.01 770.16,217.07 770.23,218.53 770.29,217.23 770.36,216.6 770.42,221.37 770.49,218.72 770.55,222.12 770.62,220.84 770.68,222.29 770.75,223.75 770.83,222.63 770.92,223.26 771,222.63 771.08,225.86 771.17,225.66 771.25,223.37 771.33,224.18 771.42,227.44 771.5,226.61 771.58,233.62 771.67,231.16 771.75,228.11 771.83,226.71 771.92,228.62 772,231.35 772.08,229.21 772.17,231.56 772.25,232.5 772.33,232.04 772.42,231.95 772.5,235.33 772.58,239.92 772.67,235.74 772.75,232.52 772.83,235.18 772.92,234.98 773,235.08 773.08,234.61 773.17,232.37 773.25,234.01 773.33,237.19 773.42,239.74 773.5,239.95 773.63,238.61 773.77,235.84 773.9,237.8 774.04,240.53 774.17,239.73 774.31,236.45 774.44,238.12 774.57,238.64 774.71,236.68 774.84,233.17 774.98,232.98 775.11,233.19 775.25,233.74 775.38,233.12 775.75,230.86 776.13,232.52 776.5,232.95 776.88,233.56 777.25,231.81 777.37,232.7 777.5,233.95 777.62,234.59 777.75,233.39 777.87,232.49 778,234.79 778.12,232.88 778.25,236.78 778.37,237.78 778.5,235.91 778.62,235.64 778.75,238.18 778.87,237.88 779,240.02 779.12,239.32 779.23,240.36 779.34,237.74 779.45,236.34 779.56,235.27 779.67,232.44 779.78,234.52 779.89,234.89 780,232.2 780.12,235.55 780.23,234.16 780.34,239.9 780.45,237.62 780.56,235.74 780.67,232.37 780.78,232.47 780.89,230.95 781,231.25 781.17,229.08 781.34,228.8 781.51,230.68 781.68,228.77 781.85,228.26 782.03,225.55 782.2,225.13 782.37,225.2 782.54,227.81 782.71,225.31 782.88,226.25 782.95,225.04 783.03,227.03 783.1,227.37 783.18,227.37 783.25,227.37 783.32,227.37 783.4,227.37 783.47,225.34 783.55,223.25 783.62,221.3 783.83,223.11 784.04,221.58 784.25,223.17 784.46,226.56 784.66,221.19 784.87,226.7 785.08,225.5 785.29,226.7 785.5,225.58 785.67,225.19 785.84,223.99 786.01,220.69 786.18,219.87 786.35,219.5 786.53,219.88 786.7,223.72 786.87,221.79 787.04,221.01 787.21,220.78 787.38,220.62 787.85,221.74 788.32,221.74 788.78,220.69 789.25,219.75 789.36,219.49 789.48,221.33 789.59,222.15 789.7,226.12 789.82,222.81 789.93,224.48 790.05,222.88 790.16,221.33 790.27,225.33 790.39,224.1 790.5,225 790.58,223.88 790.65,223.88 790.73,224.74 790.8,223.88 790.88,225.08 790.95,228.63 791.02,227.9 791.1,226.99 791.17,227.3 791.25,225.46 791.33,226.46 791.4,230.5 791.48,230.64 791.55,229.29 791.62,229.73 791.7,232.7 791.77,232.32 791.85,232.16 791.92,233.21 792,234.95 792.06,233.74 792.13,233.52 792.19,233.29 792.26,231.29 792.32,229.13 792.39,231.04 792.45,228.63 792.52,227.87 792.58,225.36 792.65,227.27 792.71,231.02 792.78,226.14 792.84,221.47 792.91,221.63 792.97,222.91 793.04,225.63 793.1,222.74 793.17,221.74 793.23,226.4 793.3,227.58 793.36,224.52 793.43,222.94 793.49,221.74 793.56,221.55 793.62,222.5 793.68,221.15 793.73,221 793.79,218.48 793.85,219.97 793.9,219.56 793.96,222.26 794.02,219.88 794.08,218.95 794.13,218.21 794.19,221.19 794.25,212.6 794.3,208.58 794.36,209.17 794.42,213.91 794.47,212.93 794.53,213.99 794.59,215.36 794.65,216.27 794.7,208.47 794.76,209.79 794.82,213.23 794.87,212.55 794.93,214.02 794.99,208.7 795.04,208.84 795.1,211.19 795.16,206.85 795.22,207.2 795.27,210.96 795.33,210.43 795.39,207.9 795.44,207.13 795.5,206.25 795.67,206.23 795.84,206.83 796.01,203.03 796.18,204.79 796.35,204.72 796.53,200.17 796.7,201.47 796.87,201.52 797.04,200.88 797.21,201.62 797.38,201.25 797.55,199.55 797.72,196.49 797.89,196.38 798.06,197.98 798.23,196.51 798.4,195.13 798.57,195.13 798.74,195.13 798.91,197.46 799.08,196.11 799.25,196.25 799.39,195.21 799.53,196.73 799.67,194.75 799.81,192.38 799.94,190.88 800.08,190.88 800.22,191.26 800.36,191.53 800.5,192 800.88,192.4 801.25,193.44 801.63,193.39 802,193.87 802.38,193.75 802.46,194.72 802.53,197.05 802.61,199.36 802.68,197.71 802.76,198.34 802.83,198.14 802.91,195.63 802.99,194.04 803.06,195.33 803.14,193.8 803.21,195.84 803.29,195.52 803.36,196.45 803.44,204.52 803.52,207.06 803.59,209.61 803.67,203.5 803.74,206.27 803.82,207.02 803.9,208.94 803.97,205.5 804.05,205.16 804.12,203.96 804.2,211.07 804.27,208.88 804.35,207.8 804.43,207.81 804.5,211.07 804.58,211.07 804.65,208.71 804.73,209.38 804.8,209.24 804.88,209.95 805.02,210.9 805.17,208.98 805.31,208.64 805.46,209.4 805.6,206.22 805.74,205.73 805.89,209.92 806.03,210.78 806.17,205.8 806.32,204.95 806.46,206 806.61,203.02 806.75,203.75 806.82,201.32 806.89,199.1 806.97,198.38 807.04,196.32 807.11,197.36 807.18,198.18 807.25,196.45 807.33,201.25 807.4,202.29 807.47,199.86 807.54,203.22 807.61,202.34 807.68,200.96 807.76,196.81 807.83,197.28 807.9,197.04 807.97,194.41 808.04,193.28 808.12,193.77 808.19,197.18 808.26,194.65 808.33,192.29 808.4,192.66 808.48,192.64 808.55,191.11 808.62,190.75 808.93,189.63 809.25,189.63 809.57,191.33 809.88,192.5 809.93,193.67 809.99,196.16 810.04,195.6 810.1,195.86 810.15,193.17 810.2,191.61 810.26,192.77 810.31,192.76 810.37,192.03 810.42,195.92 810.47,198.4 810.53,198.03 810.58,199.26 810.63,201.69 810.69,202.35 810.74,202.38 810.8,202.67 810.85,202.22 810.9,204.87 810.96,203.15 811.01,202.31 811.07,204.01 811.12,203.75 811.33,203.45 811.54,207.37 811.75,207.3 811.96,206.97 812.17,205.01 812.38,206.25 812.43,207.4 812.49,209.5 812.54,209.99 812.6,208.43 812.65,209.6 812.7,206.69 812.76,209.91 812.81,208.09 812.87,209.09 812.92,207.85 812.97,210.22 813.03,212.58 813.08,216.58 813.13,216.09 813.19,216.31 813.24,211.47 813.3,212.8 813.35,212.04 813.4,216.26 813.46,215.3 813.51,214.86 813.57,217.16 813.62,217.5 813.69,217.9 813.76,218.32 813.83,218.47 813.9,221.28 813.97,224.03 814.04,222.96 814.11,219.65 814.18,218.72 814.25,220.62 814.32,223.23 814.39,222.44 814.46,225.06 814.53,226.19 814.6,227.37 814.67,225.13 814.74,226.78 814.81,226.7 814.88,226.25 815.05,225.13 815.23,225.13 815.4,225.13 815.58,225.13 815.75,228.75 815.77,229.84 815.79,229.64 815.81,231.08 815.83,232.33 815.85,232.58 815.87,235.89 815.89,235.62 815.91,233.5 815.93,237.18 815.95,233.1 815.97,233.8 815.99,230.85 816.01,230.91 816.03,232.45 816.05,240.29 816.07,238.33 816.09,237.14 816.11,237.27 816.13,237.78 816.15,236.77 816.17,236.18 816.19,236.48 816.21,242.56 816.23,238.83 816.25,236.23 816.27,233.83 816.29,235.2 816.31,236.91 816.33,239.68 816.35,235.84 816.38,238.58 816.4,239.36 816.42,237.35 816.44,237.85 816.46,239.61 816.48,242.65 816.5,247.01 816.52,245.95 816.54,244.91 816.56,247.73 816.58,248.71 816.6,251.78 816.62,251.66 816.64,251.15 816.66,253.78 816.68,256.58 816.7,258.8 816.72,259.46 816.74,256.35 816.76,256.77 816.78,254.93 816.8,255.74 816.82,255.01 816.84,255.78 816.86,257.87 816.88,255.48 816.9,257.25 816.92,258.4 816.94,258.72 816.96,259.35 816.98,259.55 817,259.95 817.06,259.5 817.12,258.9 817.18,261 817.24,258.23 817.3,259 817.36,260.56 817.42,257.06 817.48,260.02 817.54,258.34 817.6,257.8 817.66,254.44 817.72,250.3 817.78,256.46 817.84,259.51 817.9,254.32 817.96,257.61 818.02,257.29 818.08,252.38 818.14,251.41 818.2,251 818.26,248.77 818.32,246.98 818.38,247.51 818.44,248.65 818.5,247.69 818.56,247.01 818.62,246.62 819.09,248.62 819.56,248.62 820.03,248.62 820.5,247.5 820.6,247.78 820.71,248.21 820.81,246.56 820.92,248.64 821.02,250.83 821.13,250.72 821.23,256.29 821.34,252.45 821.44,255.93 821.54,254.96 821.65,256.8 821.75,255.89 821.86,255.93 821.96,256.34 822.07,257.37 822.17,255.16 822.28,256.37 822.38,256.25 822.5,255.35 822.63,256.32 822.75,258.66 822.88,258.58 823,260.57 823.13,264.82 823.25,264.04 823.38,258.91 823.5,258.52 823.63,256.25 823.75,259.82 823.88,264.81 824,263.89 824.13,264.82 824.25,263.7 824.39,263.84 824.54,263.14 824.68,259.98 824.83,257.2 824.97,258.35 825.11,256.43 825.26,256.74 825.4,260.12 825.54,260.26 825.69,262.8 825.83,260.5 825.98,259.91 826.12,257.55 826.18,259.11 826.23,259.96 826.29,261.46 826.34,260.31 826.4,262.06 826.46,263.23 826.51,261.64 826.57,256.43 826.63,256.67 826.68,256.43 826.74,259.25 826.79,265.51 826.85,264.28 826.91,259.99 826.96,259.77 827.02,260.27 827.08,264.51 827.13,265.2 827.19,262.27 827.24,262.75 827.3,266.76 827.36,269.9 827.41,268.93 827.47,267.04 827.53,268.03 827.58,268.44 827.64,268.56 827.69,270.39 827.75,271.82 827.81,270.5 827.88,267.63 827.94,268.5 828,265.42 828.06,265.92 828.12,264.56 828.19,264.92 828.25,265.38 828.31,265.95 828.38,265.09 828.44,263.63 828.5,261.19 828.56,263 828.62,265.62 828.69,264.12 828.75,263.22 828.81,262 828.88,262.14 828.94,263.27 829,259.92 829.06,258.93 829.12,258.93 829.19,258.93 829.25,260.05 829.44,258.93 829.62,259.09 829.81,262.34 830,262.33 830.18,262.07 830.37,265.38 830.56,265.81 830.75,262.86 830.93,264.13 831.12,264.95 831.36,264.06 831.59,263.06 831.83,261.85 832.06,263.28 832.29,261.68 832.53,260.95 832.76,260.14 833,261.25 833.09,261.81 833.19,261.05 833.28,262.37 833.38,262.37 833.47,262.28 833.56,259.56 833.66,262.16 833.75,261.79 833.84,259.48 833.94,252.5 834.03,253.23 834.12,252.5 834.22,254.47 834.31,255.53 834.41,254.98 834.5,253.62 834.95,255.05 835.4,256.14 835.85,256.25 836.3,256.25 836.75,255.12 836.92,256.25 837.09,256.25 837.26,256.25 837.43,253.59 837.6,251.12 837.77,249.7 837.94,251.61 838.11,251.56 838.28,252.67 838.45,250.87 838.62,250 838.73,251.12 838.83,251.06 838.93,251.12 839.04,251.12 839.14,251.12 839.25,250.84 839.36,249.53 839.46,243.76 839.57,245.39 839.67,248.73 839.77,246.5 839.88,244.12 840.35,244.96 840.82,245.75 841.28,245.75 841.75,244.62 842.06,245.69 842.37,245.75 842.68,245.06 843,242.42 843.31,243.84 843.62,242.25 844.06,244.24 844.5,243.12"/>
<line stroke="#ffc000" x1="76.8" y1="334.5" x2="843.6" y2="334.5"/>
</g>
<g fill="none" stroke-width="3.2" stroke-linecap="round">
<line stroke="#ff0000" x1="885.2" y1="222.75" x2="921.8" y2="222.75"/>
<line stroke="#0070c0" x1="885.2" y1="258.0" x2="921.8" y2="258.0"/>
<line stroke="#ffc000" x1="885.2" y1="293.4" x2="921.8" y2="293.4"/>
</g>
<g aria-label="legend"><title>ドル建て / 円建て / 一括元本</title>
<text x="927.04" y="229" style="font-size:19.3px" fill="#4d4d4d" textLength="77.7" lengthAdjust="spacing">ドル建て</text>
<text x="926.7" y="263.5" style="font-size:19.3px" fill="#4d4d4d" textLength="58.9" lengthAdjust="spacing">円建て</text>
<text x="926.87" y="298.6" style="font-size:19.3px" fill="#4d4d4d" textLength="77.4" lengthAdjust="spacing">一括元本</text>
</g>
<g aria-label="1981年～1990年_一括投資"><title>1981年～1990年_一括投資</title>
<text class="ttl" x="309.9" y="55.95" textLength="70.3" lengthAdjust="spacingAndGlyphs">1981</text>
<text class="ttl" x="451.3" y="55.95" textLength="70.3" lengthAdjust="spacingAndGlyphs">1990</text>
<rect x="556.75" y="59.4" width="17.85" height="2.5" fill="#000"/>
<text class="ttl" x="380.78" y="55.1" style="font-size:33.8px;stroke:none">年</text>
<text class="ttl" x="416.36" y="55.1" style="font-size:33.8px;stroke:none">～</text>
<text class="ttl" x="521.68" y="55.1" style="font-size:33.8px;stroke:none">年</text>
<text class="ttl" x="574.93" y="55.1" style="font-size:33.8px;stroke:none" textLength="140.1" lengthAdjust="spacing">一括投資</text>
</g>
<g transform="translate(154.4 375) rotate(-70)"><title>1981年</title>
<text x="-17.5" y="0" style="font-size:17.5px" fill="#555555">年</text>
<text class="ax" text-anchor="end" x="-18.8" y="0" textLength="35.7" lengthAdjust="spacingAndGlyphs">1981</text>
</g>
<g transform="translate(231.7 375) rotate(-70)"><title>1982年</title>
<text x="-17.5" y="0" style="font-size:17.5px" fill="#555555">年</text>
<text class="ax" text-anchor="end" x="-18.8" y="0" textLength="35.7" lengthAdjust="spacingAndGlyphs">1982</text>
</g>
<g transform="translate(309 375) rotate(-70)"><title>1983年</title>
<text x="-17.5" y="0" style="font-size:17.5px" fill="#555555">年</text>
<text class="ax" text-anchor="end" x="-18.8" y="0" textLength="35.7" lengthAdjust="spacingAndGlyphs">1983</text>
</g>
<g transform="translate(386.3 375) rotate(-70)"><title>1984年</title>
<text x="-17.5" y="0" style="font-size:17.5px" fill="#555555">年</text>
<text class="ax" text-anchor="end" x="-18.8" y="0" textLength="35.7" lengthAdjust="spacingAndGlyphs">1984</text>
</g>
<g transform="translate(463.6 375) rotate(-70)"><title>1985年</title>
<text x="-17.5" y="0" style="font-size:17.5px" fill="#555555">年</text>
<text class="ax" text-anchor="end" x="-18.8" y="0" textLength="35.7" lengthAdjust="spacingAndGlyphs">1985</text>
</g>
<g transform="translate(540.9 375) rotate(-70)"><title>1986年</title>
<text x="-17.5" y="0" style="font-size:17.5px" fill="#555555">年</text>
<text class="ax" text-anchor="end" x="-18.8" y="0" textLength="35.7" lengthAdjust="spacingAndGlyphs">1986</text>
</g>
<g transform="translate(618.2 375) rotate(-70)"><title>1987年</title>
<text x="-17.5" y="0" style="font-size:17.5px" fill="#555555">年</text>
<text class="ax" text-anchor="end" x="-18.8" y="0" textLength="35.7" lengthAdjust="spacingAndGlyphs">1987</text>
</g>
<g transform="translate(695.5 375) rotate(-70)"><title>1988年</title>
<text x="-17.5" y="0" style="font-size:17.5px" fill="#555555">年</text>
<text class="ax" text-anchor="end" x="-18.8" y="0" textLength="35.7" lengthAdjust="spacingAndGlyphs">1988</text>
</g>
<g transform="translate(772.8 375) rotate(-70)"><title>1989年</title>
<text x="-17.5" y="0" style="font-size:17.5px" fill="#555555">年</text>
<text class="ax" text-anchor="end" x="-18.8" y="0" textLength="35.7" lengthAdjust="spacingAndGlyphs">1989</text>
</g>
<g transform="translate(850.1 375) rotate(-70)"><title>1990年</title>
<text x="-17.5" y="0" style="font-size:17.5px" fill="#555555">年</text>
<text class="ax" text-anchor="end" x="-18.8" y="0" textLength="35.7" lengthAdjust="spacingAndGlyphs">1990</text>
</g>
</svg></div></body></html>
